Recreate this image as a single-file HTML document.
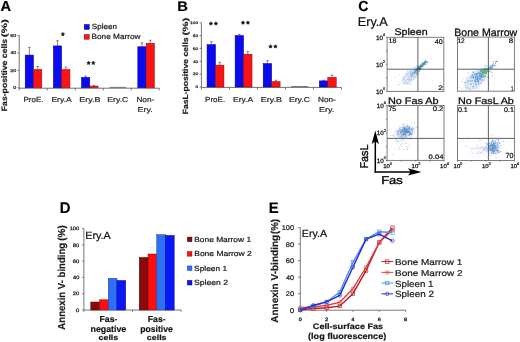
<!DOCTYPE html><html><head><meta charset="utf-8"><style>html,body{margin:0;padding:0;background:#fff;overflow:hidden}svg{display:block;will-change:transform}</style></head><body>
<svg width="520" height="342" viewBox="0 0 520 342" text-rendering="geometricPrecision" font-family='"Liberation Sans", sans-serif'>
<rect width="520" height="342" fill="#fff"/>
<line x1="19.20" y1="35.42" x2="19.20" y2="88.20" stroke="#6a6a6a" stroke-width="0.95"/>
<line x1="19.20" y1="88.20" x2="159.20" y2="88.20" stroke="#6a6a6a" stroke-width="0.95"/>
<line x1="17.40" y1="87.80" x2="19.20" y2="87.80" stroke="#6a6a6a" stroke-width="0.9"/>
<text x="13.24" y="89.26" font-size="4.23" fill="#444" stroke="#444" stroke-width="0.3" textLength="2.95" lengthAdjust="spacingAndGlyphs">0</text>
<line x1="17.40" y1="70.34" x2="19.20" y2="70.34" stroke="#6a6a6a" stroke-width="0.9"/>
<text x="10.34" y="71.80" font-size="4.23" fill="#444" stroke="#444" stroke-width="0.3" textLength="5.86" lengthAdjust="spacingAndGlyphs">20</text>
<line x1="17.40" y1="52.88" x2="19.20" y2="52.88" stroke="#6a6a6a" stroke-width="0.9"/>
<text x="10.50" y="54.34" font-size="4.23" fill="#444" stroke="#444" stroke-width="0.3" textLength="5.69" lengthAdjust="spacingAndGlyphs">40</text>
<line x1="17.40" y1="35.42" x2="19.20" y2="35.42" stroke="#6a6a6a" stroke-width="0.9"/>
<text x="10.34" y="36.88" font-size="4.23" fill="#444" stroke="#444" stroke-width="0.3" textLength="5.86" lengthAdjust="spacingAndGlyphs">60</text>
<line x1="19.20" y1="88.20" x2="19.20" y2="90.40" stroke="#6a6a6a" stroke-width="0.95"/>
<line x1="47.20" y1="88.20" x2="47.20" y2="90.40" stroke="#6a6a6a" stroke-width="0.95"/>
<line x1="75.20" y1="88.20" x2="75.20" y2="90.40" stroke="#6a6a6a" stroke-width="0.95"/>
<line x1="103.20" y1="88.20" x2="103.20" y2="90.40" stroke="#6a6a6a" stroke-width="0.95"/>
<line x1="131.20" y1="88.20" x2="131.20" y2="90.40" stroke="#6a6a6a" stroke-width="0.95"/>
<line x1="159.20" y1="88.20" x2="159.20" y2="90.40" stroke="#6a6a6a" stroke-width="0.95"/>
<line x1="29.35" y1="55.06" x2="29.35" y2="47.38" stroke="#333" stroke-width="0.6"/>
<line x1="28.15" y1="47.38" x2="30.55" y2="47.38" stroke="#333" stroke-width="0.6"/>
<rect x="25.20" y="55.06" width="8.30" height="32.74" fill="#0a0af0" stroke="#00008c" stroke-width="0.5"/>
<line x1="37.65" y1="69.47" x2="37.65" y2="66.50" stroke="#333" stroke-width="0.6"/>
<line x1="36.45" y1="66.50" x2="38.85" y2="66.50" stroke="#333" stroke-width="0.6"/>
<rect x="33.50" y="69.47" width="8.30" height="18.33" fill="#f81414" stroke="#a00000" stroke-width="0.5"/>
<line x1="57.50" y1="45.90" x2="57.50" y2="40.66" stroke="#333" stroke-width="0.6"/>
<line x1="56.30" y1="40.66" x2="58.70" y2="40.66" stroke="#333" stroke-width="0.6"/>
<rect x="53.35" y="45.90" width="8.30" height="41.90" fill="#0a0af0" stroke="#00008c" stroke-width="0.5"/>
<line x1="65.80" y1="69.47" x2="65.80" y2="67.02" stroke="#333" stroke-width="0.6"/>
<line x1="64.60" y1="67.02" x2="67.00" y2="67.02" stroke="#333" stroke-width="0.6"/>
<rect x="61.65" y="69.47" width="8.30" height="18.33" fill="#f81414" stroke="#a00000" stroke-width="0.5"/>
<line x1="85.65" y1="77.32" x2="85.65" y2="76.01" stroke="#333" stroke-width="0.6"/>
<line x1="84.45" y1="76.01" x2="86.85" y2="76.01" stroke="#333" stroke-width="0.6"/>
<rect x="81.50" y="77.32" width="8.30" height="10.48" fill="#0a0af0" stroke="#00008c" stroke-width="0.5"/>
<line x1="93.95" y1="86.05" x2="93.95" y2="85.62" stroke="#333" stroke-width="0.6"/>
<line x1="92.75" y1="85.62" x2="95.15" y2="85.62" stroke="#333" stroke-width="0.6"/>
<rect x="89.80" y="86.05" width="8.30" height="1.75" fill="#f81414" stroke="#a00000" stroke-width="0.5"/>
<rect x="109.65" y="86.90" width="8.30" height="0.90" fill="#666"/>
<rect x="117.95" y="86.90" width="8.30" height="0.90" fill="#666"/>
<line x1="141.95" y1="46.77" x2="141.95" y2="42.84" stroke="#333" stroke-width="0.6"/>
<line x1="140.75" y1="42.84" x2="143.15" y2="42.84" stroke="#333" stroke-width="0.6"/>
<rect x="137.80" y="46.77" width="8.30" height="41.03" fill="#0a0af0" stroke="#00008c" stroke-width="0.5"/>
<line x1="150.25" y1="43.28" x2="150.25" y2="40.22" stroke="#333" stroke-width="0.6"/>
<line x1="149.05" y1="40.22" x2="151.45" y2="40.22" stroke="#333" stroke-width="0.6"/>
<rect x="146.10" y="43.28" width="8.30" height="44.52" fill="#f81414" stroke="#a00000" stroke-width="0.5"/>
<text x="0.53" y="11.00" font-size="14.49" fill="#000" font-weight="bold" stroke="#000" stroke-width="0.18" textLength="10.56" lengthAdjust="spacingAndGlyphs">A</text>
<text transform="translate(7.24,111.26) rotate(-90)" x="0" y="0" font-size="7.91" fill="#1a1a1a" font-weight="bold" stroke="#1a1a1a" stroke-width="0.18" textLength="72.43" lengthAdjust="spacingAndGlyphs">Fas-positive cells</text>
<text transform="translate(7.24,37.18) rotate(-90)" x="0" y="0" font-size="7.91" fill="#1a1a1a" font-weight="bold" stroke="#1a1a1a" stroke-width="0.18" textLength="17.96" lengthAdjust="spacingAndGlyphs">(%)</text>
<rect x="84.20" y="24.40" width="5.20" height="5.10" fill="#0a0af0" stroke="#00008c" stroke-width="0.4"/>
<rect x="84.20" y="34.40" width="5.20" height="5.00" fill="#f81414" stroke="#a00000" stroke-width="0.4"/>
<text x="91.84" y="29.43" font-size="7.49" fill="#1a1a1a" stroke="#1a1a1a" stroke-width="0.22" textLength="25.08" lengthAdjust="spacingAndGlyphs">Spleen</text>
<text x="91.54" y="39.32" font-size="7.57" fill="#1a1a1a" stroke="#1a1a1a" stroke-width="0.22" textLength="49.04" lengthAdjust="spacingAndGlyphs">Bone Marrow</text>
<text x="23.46" y="101.83" font-size="7.29" fill="#2a2a2a" stroke="#2a2a2a" stroke-width="0.22" textLength="20.07" lengthAdjust="spacingAndGlyphs">ProE.</text>
<text x="51.42" y="101.78" font-size="7.22" fill="#2a2a2a" stroke="#2a2a2a" stroke-width="0.22" textLength="20.29" lengthAdjust="spacingAndGlyphs">Ery.A</text>
<text x="79.29" y="101.81" font-size="7.11" fill="#2a2a2a" stroke="#2a2a2a" stroke-width="0.22" textLength="21.06" lengthAdjust="spacingAndGlyphs">Ery.B</text>
<text x="107.31" y="101.82" font-size="7.03" fill="#2a2a2a" stroke="#2a2a2a" stroke-width="0.22" textLength="21.00" lengthAdjust="spacingAndGlyphs">Ery.C</text>
<text x="136.44" y="101.93" font-size="7.29" fill="#2a2a2a" stroke="#2a2a2a" stroke-width="0.22" textLength="17.81" lengthAdjust="spacingAndGlyphs">Non-</text>
<text x="137.48" y="111.51" font-size="7.11" fill="#2a2a2a" stroke="#2a2a2a" stroke-width="0.22" textLength="15.26" lengthAdjust="spacingAndGlyphs">Ery.</text>
<polygon points="62.90,32.35 63.50,33.38 64.66,33.63 63.87,34.51 63.99,35.70 62.90,35.22 61.81,35.70 61.93,34.51 61.14,33.63 62.30,33.38" fill="#111" stroke="#111" stroke-width="0.5" stroke-linejoin="round"/>
<polygon points="88.60,61.15 89.20,62.18 90.36,62.43 89.57,63.31 89.69,64.50 88.60,64.02 87.51,64.50 87.63,63.31 86.84,62.43 88.00,62.18" fill="#111" stroke="#111" stroke-width="0.5" stroke-linejoin="round"/>
<polygon points="93.30,61.15 93.90,62.18 95.06,62.43 94.27,63.31 94.39,64.50 93.30,64.02 92.21,64.50 92.33,63.31 91.54,62.43 92.70,62.18" fill="#111" stroke="#111" stroke-width="0.5" stroke-linejoin="round"/>
<line x1="201.40" y1="22.70" x2="201.40" y2="87.40" stroke="#6a6a6a" stroke-width="0.95"/>
<line x1="201.40" y1="87.40" x2="341.40" y2="87.40" stroke="#6a6a6a" stroke-width="0.95"/>
<line x1="199.60" y1="87.00" x2="201.40" y2="87.00" stroke="#6a6a6a" stroke-width="0.9"/>
<text x="195.41" y="88.26" font-size="3.66" fill="#444" stroke="#444" stroke-width="0.3" textLength="2.66" lengthAdjust="spacingAndGlyphs">0</text>
<line x1="199.60" y1="74.14" x2="201.40" y2="74.14" stroke="#6a6a6a" stroke-width="0.9"/>
<text x="192.76" y="75.40" font-size="3.66" fill="#444" stroke="#444" stroke-width="0.3" textLength="5.32" lengthAdjust="spacingAndGlyphs">20</text>
<line x1="199.60" y1="61.28" x2="201.40" y2="61.28" stroke="#6a6a6a" stroke-width="0.9"/>
<text x="192.91" y="62.54" font-size="3.66" fill="#444" stroke="#444" stroke-width="0.3" textLength="5.17" lengthAdjust="spacingAndGlyphs">40</text>
<line x1="199.60" y1="48.42" x2="201.40" y2="48.42" stroke="#6a6a6a" stroke-width="0.9"/>
<text x="192.76" y="49.68" font-size="3.66" fill="#444" stroke="#444" stroke-width="0.3" textLength="5.32" lengthAdjust="spacingAndGlyphs">60</text>
<line x1="199.60" y1="35.56" x2="201.40" y2="35.56" stroke="#6a6a6a" stroke-width="0.9"/>
<text x="192.79" y="36.82" font-size="3.66" fill="#444" stroke="#444" stroke-width="0.3" textLength="5.29" lengthAdjust="spacingAndGlyphs">80</text>
<line x1="199.60" y1="22.70" x2="201.40" y2="22.70" stroke="#6a6a6a" stroke-width="0.9"/>
<text x="190.04" y="23.96" font-size="3.66" fill="#444" stroke="#444" stroke-width="0.3" textLength="8.05" lengthAdjust="spacingAndGlyphs">100</text>
<line x1="201.40" y1="87.40" x2="201.40" y2="89.60" stroke="#6a6a6a" stroke-width="0.95"/>
<line x1="229.40" y1="87.40" x2="229.40" y2="89.60" stroke="#6a6a6a" stroke-width="0.95"/>
<line x1="257.40" y1="87.40" x2="257.40" y2="89.60" stroke="#6a6a6a" stroke-width="0.95"/>
<line x1="285.40" y1="87.40" x2="285.40" y2="89.60" stroke="#6a6a6a" stroke-width="0.95"/>
<line x1="313.40" y1="87.40" x2="313.40" y2="89.60" stroke="#6a6a6a" stroke-width="0.95"/>
<line x1="341.40" y1="87.40" x2="341.40" y2="89.60" stroke="#6a6a6a" stroke-width="0.95"/>
<line x1="211.28" y1="44.56" x2="211.28" y2="41.67" stroke="#333" stroke-width="0.6"/>
<line x1="210.08" y1="41.67" x2="212.47" y2="41.67" stroke="#333" stroke-width="0.6"/>
<rect x="207.05" y="44.56" width="8.45" height="42.44" fill="#0a0af0" stroke="#00008c" stroke-width="0.5"/>
<line x1="219.72" y1="65.14" x2="219.72" y2="62.24" stroke="#333" stroke-width="0.6"/>
<line x1="218.53" y1="62.24" x2="220.92" y2="62.24" stroke="#333" stroke-width="0.6"/>
<rect x="215.50" y="65.14" width="8.45" height="21.86" fill="#f81414" stroke="#a00000" stroke-width="0.5"/>
<line x1="239.34" y1="35.56" x2="239.34" y2="34.47" stroke="#333" stroke-width="0.6"/>
<line x1="238.15" y1="34.47" x2="240.54" y2="34.47" stroke="#333" stroke-width="0.6"/>
<rect x="235.12" y="35.56" width="8.45" height="51.44" fill="#0a0af0" stroke="#00008c" stroke-width="0.5"/>
<line x1="247.79" y1="54.21" x2="247.79" y2="51.63" stroke="#333" stroke-width="0.6"/>
<line x1="246.59" y1="51.63" x2="248.99" y2="51.63" stroke="#333" stroke-width="0.6"/>
<rect x="243.57" y="54.21" width="8.45" height="32.79" fill="#f81414" stroke="#a00000" stroke-width="0.5"/>
<line x1="267.42" y1="63.53" x2="267.42" y2="60.64" stroke="#333" stroke-width="0.6"/>
<line x1="266.22" y1="60.64" x2="268.62" y2="60.64" stroke="#333" stroke-width="0.6"/>
<rect x="263.19" y="63.53" width="8.45" height="23.47" fill="#0a0af0" stroke="#00008c" stroke-width="0.5"/>
<line x1="275.87" y1="81.53" x2="275.87" y2="80.25" stroke="#333" stroke-width="0.6"/>
<line x1="274.67" y1="80.25" x2="277.06" y2="80.25" stroke="#333" stroke-width="0.6"/>
<rect x="271.64" y="81.53" width="8.45" height="5.47" fill="#f81414" stroke="#a00000" stroke-width="0.5"/>
<rect x="291.26" y="86.10" width="8.45" height="0.90" fill="#666"/>
<rect x="299.71" y="86.10" width="8.45" height="0.90" fill="#666"/>
<line x1="323.56" y1="80.89" x2="323.56" y2="80.25" stroke="#333" stroke-width="0.6"/>
<line x1="322.36" y1="80.25" x2="324.75" y2="80.25" stroke="#333" stroke-width="0.6"/>
<rect x="319.33" y="80.89" width="8.45" height="6.11" fill="#0a0af0" stroke="#00008c" stroke-width="0.5"/>
<line x1="332.00" y1="77.36" x2="332.00" y2="75.23" stroke="#333" stroke-width="0.6"/>
<line x1="330.81" y1="75.23" x2="333.20" y2="75.23" stroke="#333" stroke-width="0.6"/>
<rect x="327.78" y="77.36" width="8.45" height="9.64" fill="#f81414" stroke="#a00000" stroke-width="0.5"/>
<text x="177.24" y="10.70" font-size="13.91" fill="#000" font-weight="bold" stroke="#000" stroke-width="0.18" textLength="10.66" lengthAdjust="spacingAndGlyphs">B</text>
<text transform="translate(187.51,114.36) rotate(-90)" x="0" y="0" font-size="7.59" fill="#1a1a1a" font-weight="bold" stroke="#1a1a1a" stroke-width="0.18" textLength="76.93" lengthAdjust="spacingAndGlyphs">FasL-positive cells</text>
<text transform="translate(187.51,35.58) rotate(-90)" x="0" y="0" font-size="7.59" fill="#1a1a1a" font-weight="bold" stroke="#1a1a1a" stroke-width="0.18" textLength="17.96" lengthAdjust="spacingAndGlyphs">(%)</text>
<text x="205.06" y="101.83" font-size="7.29" fill="#2a2a2a" stroke="#2a2a2a" stroke-width="0.22" textLength="20.07" lengthAdjust="spacingAndGlyphs">ProE.</text>
<text x="233.02" y="101.78" font-size="7.22" fill="#2a2a2a" stroke="#2a2a2a" stroke-width="0.22" textLength="20.29" lengthAdjust="spacingAndGlyphs">Ery.A</text>
<text x="260.89" y="101.81" font-size="7.11" fill="#2a2a2a" stroke="#2a2a2a" stroke-width="0.22" textLength="21.06" lengthAdjust="spacingAndGlyphs">Ery.B</text>
<text x="288.91" y="101.82" font-size="7.03" fill="#2a2a2a" stroke="#2a2a2a" stroke-width="0.22" textLength="21.00" lengthAdjust="spacingAndGlyphs">Ery.C</text>
<text x="318.04" y="101.93" font-size="7.29" fill="#2a2a2a" stroke="#2a2a2a" stroke-width="0.22" textLength="17.81" lengthAdjust="spacingAndGlyphs">Non-</text>
<text x="319.08" y="111.51" font-size="7.11" fill="#2a2a2a" stroke="#2a2a2a" stroke-width="0.22" textLength="15.26" lengthAdjust="spacingAndGlyphs">Ery.</text>
<polygon points="210.90,21.75 211.50,22.78 212.66,23.03 211.87,23.91 211.99,25.10 210.90,24.62 209.81,25.10 209.93,23.91 209.14,23.03 210.30,22.78" fill="#111" stroke="#111" stroke-width="0.5" stroke-linejoin="round"/>
<polygon points="215.90,21.75 216.50,22.78 217.66,23.03 216.87,23.91 216.99,25.10 215.90,24.62 214.81,25.10 214.93,23.91 214.14,23.03 215.30,22.78" fill="#111" stroke="#111" stroke-width="0.5" stroke-linejoin="round"/>
<polygon points="243.00,20.85 243.60,21.88 244.76,22.13 243.97,23.01 244.09,24.20 243.00,23.72 241.91,24.20 242.03,23.01 241.24,22.13 242.40,21.88" fill="#111" stroke="#111" stroke-width="0.5" stroke-linejoin="round"/>
<polygon points="247.90,20.85 248.50,21.88 249.66,22.13 248.87,23.01 248.99,24.20 247.90,23.72 246.81,24.20 246.93,23.01 246.14,22.13 247.30,21.88" fill="#111" stroke="#111" stroke-width="0.5" stroke-linejoin="round"/>
<polygon points="270.50,44.65 271.10,45.68 272.26,45.93 271.47,46.81 271.59,48.00 270.50,47.52 269.41,48.00 269.53,46.81 268.74,45.93 269.90,45.68" fill="#111" stroke="#111" stroke-width="0.5" stroke-linejoin="round"/>
<polygon points="275.40,44.65 276.00,45.68 277.16,45.93 276.37,46.81 276.49,48.00 275.40,47.52 274.31,48.00 274.43,46.81 273.64,45.93 274.80,45.68" fill="#111" stroke="#111" stroke-width="0.5" stroke-linejoin="round"/>
<text x="358.24" y="10.85" font-size="14.51" fill="#000" font-weight="bold" stroke="#000" stroke-width="0.18" textLength="10.14" lengthAdjust="spacingAndGlyphs">C</text>
<text x="357.79" y="25.92" font-size="12.78" fill="#111" stroke="#111" stroke-width="0.22" textLength="30.02" lengthAdjust="spacingAndGlyphs">Ery.A</text>
<defs><filter id="bl" x="-10%" y="-10%" width="120%" height="120%"><feGaussianBlur stdDeviation="0.55"/></filter><clipPath id="cb0"><rect x="387.1" y="37.3" width="56.70" height="54.10"/></clipPath><clipPath id="cb1"><rect x="457.5" y="37.1" width="56.90" height="54.10"/></clipPath><clipPath id="cb2"><rect x="387.1" y="105.5" width="56.90" height="54.90"/></clipPath><clipPath id="cb3"><rect x="457.5" y="105.6" width="56.90" height="54.90"/></clipPath></defs>
<text x="394.52" y="35.28" font-size="9.63" fill="#111" stroke="#111" stroke-width="0.3" textLength="33.06" lengthAdjust="spacingAndGlyphs">Spleen</text>
<g clip-path="url(#cb0)"><g filter="url(#bl)">
<ellipse cx="410" cy="76.5" rx="10" ry="5.5" transform="rotate(-42 410 76.5)" fill="#dbe5f4" opacity="0.9"/>
<circle cx="409.2" cy="79.8" r="0.5" fill="#98b8e0" opacity="0.8"/>
<circle cx="417.6" cy="72.5" r="0.5" fill="#a8c2e6" opacity="0.8"/>
<circle cx="408.7" cy="79.0" r="0.5" fill="#98b8e0" opacity="0.8"/>
<circle cx="410.4" cy="78.3" r="0.5" fill="#b8cdea" opacity="0.8"/>
<circle cx="411.1" cy="76.5" r="0.5" fill="#b8cdea" opacity="0.8"/>
<circle cx="415.1" cy="74.3" r="0.5" fill="#a8c2e6" opacity="0.8"/>
<circle cx="403.0" cy="78.2" r="0.5" fill="#a8c2e6" opacity="0.8"/>
<circle cx="404.2" cy="79.5" r="0.5" fill="#a8c2e6" opacity="0.8"/>
<circle cx="418.1" cy="72.1" r="0.5" fill="#b8cdea" opacity="0.8"/>
<circle cx="406.0" cy="83.1" r="0.5" fill="#98b8e0" opacity="0.8"/>
<circle cx="410.4" cy="84.5" r="0.5" fill="#a8c2e6" opacity="0.8"/>
<circle cx="415.1" cy="75.8" r="0.5" fill="#a8c2e6" opacity="0.8"/>
<circle cx="407.6" cy="83.1" r="0.5" fill="#a8c2e6" opacity="0.8"/>
<circle cx="402.5" cy="80.7" r="0.5" fill="#b8cdea" opacity="0.8"/>
<circle cx="404.9" cy="76.6" r="0.5" fill="#b8cdea" opacity="0.8"/>
<circle cx="401.1" cy="86.9" r="0.5" fill="#b8cdea" opacity="0.8"/>
<circle cx="410.8" cy="84.0" r="0.5" fill="#98b8e0" opacity="0.8"/>
<circle cx="408.3" cy="76.1" r="0.5" fill="#b8cdea" opacity="0.8"/>
<circle cx="400.0" cy="84.0" r="0.5" fill="#98b8e0" opacity="0.8"/>
<circle cx="404.7" cy="83.4" r="0.5" fill="#a8c2e6" opacity="0.8"/>
<circle cx="413.8" cy="76.6" r="0.5" fill="#b8cdea" opacity="0.8"/>
<circle cx="414.0" cy="77.6" r="0.5" fill="#a8c2e6" opacity="0.8"/>
<circle cx="410.4" cy="75.8" r="0.5" fill="#98b8e0" opacity="0.8"/>
<circle cx="399.3" cy="81.8" r="0.5" fill="#b8cdea" opacity="0.8"/>
<circle cx="408.8" cy="81.4" r="0.5" fill="#b8cdea" opacity="0.8"/>
<circle cx="403.8" cy="79.6" r="0.5" fill="#a8c2e6" opacity="0.8"/>
<circle cx="412.4" cy="72.6" r="0.5" fill="#98b8e0" opacity="0.8"/>
<circle cx="416.6" cy="73.8" r="0.5" fill="#b8cdea" opacity="0.8"/>
<circle cx="395.2" cy="77.7" r="0.5" fill="#b8cdea" opacity="0.8"/>
<circle cx="410.4" cy="80.9" r="0.5" fill="#98b8e0" opacity="0.8"/>
<circle cx="408.1" cy="87.7" r="0.5" fill="#b8cdea" opacity="0.8"/>
<circle cx="411.1" cy="77.8" r="0.5" fill="#a8c2e6" opacity="0.8"/>
<circle cx="411.6" cy="79.1" r="0.5" fill="#98b8e0" opacity="0.8"/>
<circle cx="411.5" cy="80.1" r="0.5" fill="#b8cdea" opacity="0.8"/>
<circle cx="414.2" cy="75.4" r="0.5" fill="#98b8e0" opacity="0.8"/>
<circle cx="409.9" cy="79.3" r="0.5" fill="#b8cdea" opacity="0.8"/>
<circle cx="409.7" cy="73.9" r="0.5" fill="#b8cdea" opacity="0.8"/>
<circle cx="414.9" cy="71.6" r="0.5" fill="#b8cdea" opacity="0.8"/>
<circle cx="410.9" cy="75.1" r="0.5" fill="#a8c2e6" opacity="0.8"/>
<circle cx="415.4" cy="77.6" r="0.5" fill="#a8c2e6" opacity="0.8"/>
<circle cx="403.9" cy="82.7" r="0.5" fill="#b8cdea" opacity="0.8"/>
<circle cx="409.9" cy="79.4" r="0.5" fill="#98b8e0" opacity="0.8"/>
<circle cx="407.7" cy="83.3" r="0.5" fill="#a8c2e6" opacity="0.8"/>
<circle cx="404.5" cy="76.1" r="0.5" fill="#98b8e0" opacity="0.8"/>
<circle cx="402.0" cy="77.2" r="0.5" fill="#b8cdea" opacity="0.8"/>
<circle cx="412.3" cy="69.6" r="0.5" fill="#98b8e0" opacity="0.8"/>
<circle cx="407.9" cy="73.9" r="0.5" fill="#b8cdea" opacity="0.8"/>
<circle cx="407.0" cy="82.7" r="0.5" fill="#b8cdea" opacity="0.8"/>
<circle cx="410.8" cy="76.6" r="0.5" fill="#a8c2e6" opacity="0.8"/>
<circle cx="407.6" cy="79.6" r="0.5" fill="#98b8e0" opacity="0.8"/>
<circle cx="409.1" cy="77.4" r="0.5" fill="#a8c2e6" opacity="0.8"/>
<circle cx="397.9" cy="84.7" r="0.5" fill="#98b8e0" opacity="0.8"/>
<circle cx="418.0" cy="71.0" r="0.5" fill="#98b8e0" opacity="0.8"/>
<circle cx="407.2" cy="83.9" r="0.5" fill="#b8cdea" opacity="0.8"/>
<circle cx="403.6" cy="79.0" r="0.5" fill="#a8c2e6" opacity="0.8"/>
<circle cx="410.4" cy="63.9" r="0.5" fill="#b8cdea" opacity="0.8"/>
<circle cx="405.7" cy="80.9" r="0.5" fill="#a8c2e6" opacity="0.8"/>
<circle cx="413.3" cy="76.3" r="0.5" fill="#b8cdea" opacity="0.8"/>
<circle cx="403.3" cy="83.6" r="0.5" fill="#98b8e0" opacity="0.8"/>
<circle cx="419.8" cy="69.5" r="0.5" fill="#98b8e0" opacity="0.8"/>
<circle cx="407.8" cy="84.3" r="0.5" fill="#a8c2e6" opacity="0.8"/>
<circle cx="407.2" cy="75.1" r="0.5" fill="#98b8e0" opacity="0.8"/>
<circle cx="410.3" cy="70.7" r="0.5" fill="#b8cdea" opacity="0.8"/>
<circle cx="399.5" cy="84.8" r="0.5" fill="#b8cdea" opacity="0.8"/>
<circle cx="406.8" cy="73.6" r="0.5" fill="#98b8e0" opacity="0.8"/>
<circle cx="409.1" cy="80.4" r="0.5" fill="#a8c2e6" opacity="0.8"/>
<circle cx="407.5" cy="70.5" r="0.5" fill="#98b8e0" opacity="0.8"/>
<circle cx="408.4" cy="75.0" r="0.5" fill="#b8cdea" opacity="0.8"/>
<circle cx="408.8" cy="78.6" r="0.5" fill="#a8c2e6" opacity="0.8"/>
<circle cx="407.5" cy="73.5" r="0.5" fill="#a8c2e6" opacity="0.8"/>
<circle cx="399.7" cy="74.5" r="0.5" fill="#b8cdea" opacity="0.8"/>
<circle cx="407.8" cy="71.4" r="0.5" fill="#b8cdea" opacity="0.8"/>
<circle cx="412.1" cy="73.4" r="0.5" fill="#a8c2e6" opacity="0.8"/>
<circle cx="414.3" cy="76.0" r="0.5" fill="#b8cdea" opacity="0.8"/>
<circle cx="413.8" cy="79.6" r="0.5" fill="#98b8e0" opacity="0.8"/>
<circle cx="409.2" cy="72.7" r="0.5" fill="#98b8e0" opacity="0.8"/>
<circle cx="408.6" cy="83.6" r="0.5" fill="#98b8e0" opacity="0.8"/>
<circle cx="413.6" cy="76.7" r="0.5" fill="#98b8e0" opacity="0.8"/>
<circle cx="406.3" cy="74.4" r="0.5" fill="#a8c2e6" opacity="0.8"/>
<circle cx="405.0" cy="83.8" r="0.5" fill="#a8c2e6" opacity="0.8"/>
<circle cx="414.2" cy="66.8" r="0.55" fill="#5a92cc" opacity="1.0"/>
<circle cx="411.8" cy="75.2" r="0.55" fill="#6f9fd4" opacity="1.0"/>
<circle cx="414.1" cy="71.0" r="0.55" fill="#6f9fd4" opacity="1.0"/>
<circle cx="418.2" cy="69.1" r="0.55" fill="#5a92cc" opacity="1.0"/>
<circle cx="414.9" cy="70.5" r="0.55" fill="#78a4d6" opacity="1.0"/>
<circle cx="418.1" cy="68.4" r="0.55" fill="#5a92cc" opacity="1.0"/>
<circle cx="417.7" cy="71.3" r="0.55" fill="#6f9fd4" opacity="1.0"/>
<circle cx="421.2" cy="66.5" r="0.55" fill="#78a4d6" opacity="1.0"/>
<circle cx="419.0" cy="70.0" r="0.55" fill="#6f9fd4" opacity="1.0"/>
<circle cx="411.7" cy="76.2" r="0.55" fill="#6f9fd4" opacity="1.0"/>
<circle cx="416.7" cy="70.3" r="0.55" fill="#78a4d6" opacity="1.0"/>
<circle cx="416.6" cy="72.9" r="0.55" fill="#5a92cc" opacity="1.0"/>
<circle cx="410.4" cy="74.5" r="0.55" fill="#6f9fd4" opacity="1.0"/>
<circle cx="416.2" cy="69.3" r="0.55" fill="#5a92cc" opacity="1.0"/>
<circle cx="411.2" cy="71.6" r="0.55" fill="#78a4d6" opacity="1.0"/>
<circle cx="411.8" cy="76.7" r="0.55" fill="#78a4d6" opacity="1.0"/>
<circle cx="416.3" cy="71.2" r="0.55" fill="#78a4d6" opacity="1.0"/>
<circle cx="417.5" cy="69.5" r="0.55" fill="#6f9fd4" opacity="1.0"/>
<circle cx="410.8" cy="72.9" r="0.55" fill="#6f9fd4" opacity="1.0"/>
<circle cx="417.3" cy="71.6" r="0.55" fill="#78a4d6" opacity="1.0"/>
<circle cx="415.8" cy="71.3" r="0.55" fill="#78a4d6" opacity="1.0"/>
<circle cx="412.0" cy="73.9" r="0.55" fill="#6f9fd4" opacity="1.0"/>
<circle cx="415.3" cy="70.7" r="0.55" fill="#6f9fd4" opacity="1.0"/>
<circle cx="416.2" cy="74.1" r="0.55" fill="#78a4d6" opacity="1.0"/>
<circle cx="414.6" cy="72.0" r="0.55" fill="#6f9fd4" opacity="1.0"/>
<circle cx="412.6" cy="74.7" r="0.55" fill="#78a4d6" opacity="1.0"/>
<circle cx="413.4" cy="72.1" r="0.55" fill="#5a92cc" opacity="1.0"/>
<circle cx="412.8" cy="74.3" r="0.55" fill="#5a92cc" opacity="1.0"/>
<circle cx="413.3" cy="73.0" r="0.55" fill="#78a4d6" opacity="1.0"/>
<circle cx="417.0" cy="66.1" r="0.55" fill="#5a92cc" opacity="1.0"/>
<circle cx="418.1" cy="66.6" r="0.55" fill="#6f9fd4" opacity="1.0"/>
<circle cx="415.2" cy="70.4" r="0.55" fill="#6f9fd4" opacity="1.0"/>
<circle cx="414.1" cy="73.5" r="0.55" fill="#78a4d6" opacity="1.0"/>
<circle cx="415.5" cy="71.9" r="0.55" fill="#78a4d6" opacity="1.0"/>
<circle cx="415.1" cy="72.4" r="0.55" fill="#6f9fd4" opacity="1.0"/>
<circle cx="417.4" cy="68.2" r="0.55" fill="#5a92cc" opacity="1.0"/>
<circle cx="419.6" cy="70.9" r="0.55" fill="#5a92cc" opacity="1.0"/>
<circle cx="418.6" cy="73.5" r="0.55" fill="#5a92cc" opacity="1.0"/>
<circle cx="415.6" cy="70.1" r="0.55" fill="#78a4d6" opacity="1.0"/>
<circle cx="415.1" cy="70.3" r="0.55" fill="#5a92cc" opacity="1.0"/>
<circle cx="417.2" cy="69.4" r="0.55" fill="#5a92cc" opacity="1.0"/>
<circle cx="416.5" cy="71.9" r="0.55" fill="#78a4d6" opacity="1.0"/>
<circle cx="414.4" cy="73.5" r="0.55" fill="#5a92cc" opacity="1.0"/>
<circle cx="414.7" cy="71.9" r="0.55" fill="#5a92cc" opacity="1.0"/>
<circle cx="413.0" cy="73.1" r="0.55" fill="#6f9fd4" opacity="1.0"/>
<circle cx="420.4" cy="69.8" r="0.55" fill="#6f9fd4" opacity="1.0"/>
<circle cx="415.9" cy="70.5" r="0.55" fill="#5a92cc" opacity="1.0"/>
<circle cx="416.6" cy="74.7" r="0.55" fill="#6f9fd4" opacity="1.0"/>
<circle cx="415.4" cy="72.3" r="0.55" fill="#5a92cc" opacity="1.0"/>
<circle cx="415.7" cy="68.3" r="0.55" fill="#5a92cc" opacity="1.0"/>
<circle cx="420.5" cy="68.2" r="0.5" fill="#8ab8d8" opacity="0.8"/>
<circle cx="421.8" cy="65.1" r="0.5" fill="#a0c4e0" opacity="0.8"/>
<circle cx="422.5" cy="64.2" r="0.5" fill="#a0c4e0" opacity="0.8"/>
<circle cx="422.6" cy="65.4" r="0.5" fill="#a0c4e0" opacity="0.8"/>
<circle cx="422.5" cy="64.5" r="0.5" fill="#a0c4e0" opacity="0.8"/>
<circle cx="427.8" cy="61.9" r="0.5" fill="#8ab8d8" opacity="0.8"/>
<circle cx="430.8" cy="58.2" r="0.5" fill="#8ab8d8" opacity="0.8"/>
<circle cx="424.0" cy="63.3" r="0.5" fill="#a0c4e0" opacity="0.8"/>
<circle cx="426.7" cy="62.2" r="0.5" fill="#a0c4e0" opacity="0.8"/>
<circle cx="424.3" cy="63.3" r="0.5" fill="#a0c4e0" opacity="0.8"/>
<circle cx="423.9" cy="65.4" r="0.5" fill="#8ab8d8" opacity="0.8"/>
<circle cx="420.7" cy="66.6" r="0.5" fill="#8ab8d8" opacity="0.8"/>
<circle cx="420.9" cy="66.6" r="0.5" fill="#8ab8d8" opacity="0.8"/>
<circle cx="422.6" cy="59.8" r="0.5" fill="#a0c4e0" opacity="0.8"/>
<circle cx="426.7" cy="61.7" r="0.5" fill="#a0c4e0" opacity="0.8"/>
<circle cx="420.5" cy="66.8" r="0.5" fill="#8ab8d8" opacity="0.8"/>
<circle cx="427.2" cy="63.0" r="0.5" fill="#8ab8d8" opacity="0.8"/>
<circle cx="419.8" cy="65.8" r="0.5" fill="#8ab8d8" opacity="0.8"/>
<circle cx="424.5" cy="63.1" r="0.5" fill="#a0c4e0" opacity="0.8"/>
<circle cx="424.7" cy="63.0" r="0.5" fill="#a0c4e0" opacity="0.8"/>
<circle cx="421.0" cy="67.4" r="0.5" fill="#a0c4e0" opacity="0.8"/>
<circle cx="422.6" cy="64.9" r="0.5" fill="#8ab8d8" opacity="0.8"/>
<circle cx="421.8" cy="66.0" r="0.5" fill="#8ab8d8" opacity="0.8"/>
<circle cx="424.2" cy="61.8" r="0.5" fill="#8ab8d8" opacity="0.8"/>
<circle cx="418.6" cy="67.2" r="0.5" fill="#a0c4e0" opacity="0.8"/>
<circle cx="421.2" cy="66.6" r="0.5" fill="#8ab8d8" opacity="0.8"/>
<circle cx="424.9" cy="63.1" r="0.5" fill="#8ab8d8" opacity="0.8"/>
<circle cx="425.5" cy="62.2" r="0.5" fill="#a0c4e0" opacity="0.8"/>
<circle cx="428.0" cy="61.0" r="0.5" fill="#a0c4e0" opacity="0.8"/>
<circle cx="422.5" cy="65.3" r="0.5" fill="#8ab8d8" opacity="0.8"/>
<circle cx="424.6" cy="64.0" r="0.5" fill="#a0c4e0" opacity="0.8"/>
<circle cx="424.1" cy="66.8" r="0.5" fill="#a0c4e0" opacity="0.8"/>
<circle cx="422.8" cy="65.7" r="0.5" fill="#8ab8d8" opacity="0.8"/>
<circle cx="419.9" cy="66.6" r="0.5" fill="#8ab8d8" opacity="0.8"/>
<circle cx="422.5" cy="66.4" r="0.5" fill="#a0c4e0" opacity="0.8"/>
<circle cx="419.1" cy="65.9" r="0.5" fill="#8ab8d8" opacity="0.8"/>
<circle cx="421.5" cy="63.3" r="0.5" fill="#8ab8d8" opacity="0.8"/>
<circle cx="426.0" cy="64.3" r="0.5" fill="#a0c4e0" opacity="0.8"/>
<circle cx="427.6" cy="61.6" r="0.5" fill="#8ab8d8" opacity="0.8"/>
<circle cx="420.5" cy="63.9" r="0.5" fill="#a0c4e0" opacity="0.8"/>
<circle cx="425.4" cy="61.7" r="0.55" fill="#5a9ad0" opacity="1.0"/>
<circle cx="423.9" cy="62.4" r="0.55" fill="#5a9ad0" opacity="1.0"/>
<circle cx="422.9" cy="63.4" r="0.55" fill="#3f8a9a" opacity="1.0"/>
<circle cx="423.2" cy="64.7" r="0.55" fill="#5aa0b4" opacity="1.0"/>
<circle cx="424.6" cy="63.1" r="0.55" fill="#6aae90" opacity="1.0"/>
<circle cx="419.1" cy="67.7" r="0.55" fill="#5a9ad0" opacity="1.0"/>
<circle cx="420.8" cy="65.7" r="0.55" fill="#4a8fa0" opacity="1.0"/>
<circle cx="421.7" cy="66.0" r="0.55" fill="#5a9ad0" opacity="1.0"/>
<circle cx="423.2" cy="64.3" r="0.55" fill="#5a9ad0" opacity="1.0"/>
<circle cx="426.4" cy="62.4" r="0.55" fill="#5aa0b4" opacity="1.0"/>
<circle cx="423.3" cy="62.7" r="0.55" fill="#3f8a9a" opacity="1.0"/>
<circle cx="422.0" cy="65.0" r="0.55" fill="#6aae90" opacity="1.0"/>
<circle cx="420.2" cy="67.3" r="0.55" fill="#6aae90" opacity="1.0"/>
<circle cx="423.9" cy="63.5" r="0.55" fill="#4a8fa0" opacity="1.0"/>
<circle cx="419.5" cy="66.9" r="0.55" fill="#4a8fa0" opacity="1.0"/>
<circle cx="420.5" cy="66.5" r="0.55" fill="#5aa0b4" opacity="1.0"/>
<circle cx="421.4" cy="65.8" r="0.55" fill="#6aae90" opacity="1.0"/>
<circle cx="424.4" cy="63.8" r="0.55" fill="#4a8fa0" opacity="1.0"/>
<circle cx="420.5" cy="65.6" r="0.55" fill="#5aa0b4" opacity="1.0"/>
<circle cx="421.6" cy="65.2" r="0.55" fill="#6aae90" opacity="1.0"/>
<circle cx="421.4" cy="66.3" r="0.55" fill="#5a9ad0" opacity="1.0"/>
<circle cx="425.9" cy="64.8" r="0.55" fill="#6aae90" opacity="1.0"/>
<circle cx="425.2" cy="62.9" r="0.55" fill="#5a9ad0" opacity="1.0"/>
<circle cx="424.9" cy="62.8" r="0.55" fill="#5aa0b4" opacity="1.0"/>
<circle cx="419.2" cy="69.6" r="0.55" fill="#3f8a9a" opacity="1.0"/>
<circle cx="423.5" cy="64.5" r="0.55" fill="#5a9ad0" opacity="1.0"/>
<circle cx="422.8" cy="65.9" r="0.55" fill="#5a9ad0" opacity="1.0"/>
<circle cx="423.2" cy="63.5" r="0.55" fill="#4a8fa0" opacity="1.0"/>
<circle cx="421.7" cy="65.3" r="0.55" fill="#6aae90" opacity="1.0"/>
<circle cx="421.6" cy="66.4" r="0.55" fill="#6aae90" opacity="1.0"/>
<circle cx="421.0" cy="65.6" r="0.55" fill="#3f8a9a" opacity="1.0"/>
<circle cx="420.7" cy="67.3" r="0.55" fill="#4a8fa0" opacity="1.0"/>
<circle cx="422.6" cy="65.1" r="0.55" fill="#5aa0b4" opacity="1.0"/>
<circle cx="422.9" cy="64.4" r="0.55" fill="#3f8a9a" opacity="1.0"/>
<circle cx="420.3" cy="65.1" r="0.55" fill="#5aa0b4" opacity="1.0"/>
<circle cx="422.7" cy="65.4" r="0.55" fill="#6aae90" opacity="1.0"/>
<circle cx="425.7" cy="62.3" r="0.55" fill="#5aa0b4" opacity="1.0"/>
<circle cx="425.7" cy="61.6" r="0.55" fill="#4a8fa0" opacity="1.0"/>
<circle cx="422.5" cy="65.5" r="0.55" fill="#5aa0b4" opacity="1.0"/>
<circle cx="421.4" cy="65.8" r="0.55" fill="#5aa0b4" opacity="1.0"/>
<circle cx="420.8" cy="67.1" r="0.55" fill="#5aa0b4" opacity="1.0"/>
<circle cx="422.5" cy="64.1" r="0.55" fill="#4a8fa0" opacity="1.0"/>
<circle cx="423.1" cy="63.3" r="0.55" fill="#5a9ad0" opacity="1.0"/>
<circle cx="418.6" cy="68.2" r="0.55" fill="#4a8fa0" opacity="1.0"/>
<circle cx="424.5" cy="63.0" r="0.55" fill="#5a9ad0" opacity="1.0"/>
<circle cx="421.8" cy="64.3" r="0.55" fill="#5aa0b4" opacity="1.0"/>
<circle cx="417.4" cy="70.0" r="0.55" fill="#5a9ad0" opacity="1.0"/>
<circle cx="424.8" cy="64.0" r="0.55" fill="#5aa0b4" opacity="1.0"/>
<circle cx="422.5" cy="65.9" r="0.55" fill="#5aa0b4" opacity="1.0"/>
<circle cx="421.2" cy="66.7" r="0.55" fill="#6aae90" opacity="1.0"/>
<circle cx="420.1" cy="67.0" r="0.55" fill="#3f8a9a" opacity="1.0"/>
<circle cx="421.8" cy="65.6" r="0.55" fill="#5a9ad0" opacity="1.0"/>
<circle cx="424.5" cy="62.8" r="0.55" fill="#3f8a9a" opacity="1.0"/>
<circle cx="420.6" cy="67.2" r="0.55" fill="#6aae90" opacity="1.0"/>
<circle cx="420.1" cy="67.9" r="0.55" fill="#3f8a9a" opacity="1.0"/>
<circle cx="424.6" cy="63.8" r="0.55" fill="#4a8fa0" opacity="1.0"/>
<circle cx="422.0" cy="66.5" r="0.55" fill="#5a9ad0" opacity="1.0"/>
<circle cx="422.7" cy="65.2" r="0.55" fill="#6aae90" opacity="1.0"/>
<circle cx="420.1" cy="68.4" r="0.55" fill="#3f8a9a" opacity="1.0"/>
<circle cx="421.3" cy="66.9" r="0.55" fill="#4a8fa0" opacity="1.0"/>
<circle cx="419.4" cy="68.0" r="0.55" fill="#5aa0b4" opacity="1.0"/>
<circle cx="424.9" cy="63.9" r="0.55" fill="#3f8a9a" opacity="1.0"/>
<circle cx="427.3" cy="62.1" r="0.55" fill="#6aae90" opacity="1.0"/>
<circle cx="420.7" cy="67.4" r="0.55" fill="#5aa0b4" opacity="1.0"/>
<circle cx="424.5" cy="61.8" r="0.55" fill="#4a8fa0" opacity="1.0"/>
<circle cx="424.6" cy="64.1" r="0.55" fill="#6aae90" opacity="1.0"/>
<circle cx="425.1" cy="62.6" r="0.55" fill="#4a8fa0" opacity="1.0"/>
<circle cx="419.0" cy="69.8" r="0.55" fill="#5a9ad0" opacity="1.0"/>
<circle cx="425.4" cy="60.5" r="0.55" fill="#3f8a9a" opacity="1.0"/>
<circle cx="422.5" cy="64.5" r="0.55" fill="#3f8a9a" opacity="1.0"/>
<circle cx="418.8" cy="68.3" r="0.55" fill="#6aae90" opacity="1.0"/>
<circle cx="426.5" cy="62.5" r="0.55" fill="#4a8fa0" opacity="1.0"/>
<circle cx="422.5" cy="64.5" r="0.55" fill="#4a8fa0" opacity="1.0"/>
<circle cx="420.9" cy="65.9" r="0.55" fill="#3f8a9a" opacity="1.0"/>
<circle cx="420.0" cy="66.5" r="0.55" fill="#6aae90" opacity="1.0"/>
<circle cx="421.9" cy="65.3" r="0.55" fill="#4a8fa0" opacity="1.0"/>
<circle cx="421.9" cy="68.1" r="0.55" fill="#3f8a9a" opacity="1.0"/>
<circle cx="421.4" cy="66.6" r="0.55" fill="#5a9ad0" opacity="1.0"/>
<circle cx="425.5" cy="62.6" r="0.55" fill="#6aae90" opacity="1.0"/>
<circle cx="422.6" cy="66.0" r="0.55" fill="#3f8a9a" opacity="1.0"/>
<circle cx="417.8" cy="68.9" r="0.6" fill="#2f6f7a" opacity="1.0"/>
<circle cx="419.5" cy="69.0" r="0.6" fill="#3a7a88" opacity="1.0"/>
<circle cx="419.1" cy="69.0" r="0.6" fill="#3a7a88" opacity="1.0"/>
<circle cx="419.1" cy="69.1" r="0.6" fill="#3a7a88" opacity="1.0"/>
<circle cx="419.1" cy="68.5" r="0.6" fill="#2f6f7a" opacity="1.0"/>
<circle cx="418.0" cy="67.6" r="0.6" fill="#3a7a88" opacity="1.0"/>
<circle cx="418.2" cy="68.3" r="0.6" fill="#3a7a88" opacity="1.0"/>
<circle cx="418.4" cy="67.9" r="0.6" fill="#2f6f7a" opacity="1.0"/>
<circle cx="417.8" cy="68.8" r="0.6" fill="#2f6f7a" opacity="1.0"/>
<circle cx="418.6" cy="69.4" r="0.6" fill="#3a7a88" opacity="1.0"/>
<circle cx="419.6" cy="69.5" r="0.6" fill="#2f6f7a" opacity="1.0"/>
<circle cx="419.4" cy="68.2" r="0.6" fill="#2f6f7a" opacity="1.0"/>
<circle cx="419.0" cy="68.7" r="0.6" fill="#3a7a88" opacity="1.0"/>
<circle cx="418.7" cy="68.9" r="0.6" fill="#2f6f7a" opacity="1.0"/>
<circle cx="417.1" cy="69.4" r="0.6" fill="#2f6f7a" opacity="1.0"/>
<circle cx="416.8" cy="69.9" r="0.6" fill="#3a7a88" opacity="1.0"/>
<circle cx="418.1" cy="66.0" r="0.6" fill="#2f6f7a" opacity="1.0"/>
<circle cx="418.2" cy="69.3" r="0.6" fill="#3a7a88" opacity="1.0"/>
<circle cx="419.9" cy="69.0" r="0.6" fill="#3a7a88" opacity="1.0"/>
<circle cx="420.0" cy="66.8" r="0.6" fill="#3a7a88" opacity="1.0"/>
<circle cx="418.5" cy="68.9" r="0.6" fill="#3a7a88" opacity="1.0"/>
<circle cx="419.4" cy="69.2" r="0.6" fill="#2f6f7a" opacity="1.0"/>
<circle cx="416.9" cy="68.3" r="0.6" fill="#3a7a88" opacity="1.0"/>
<circle cx="417.3" cy="70.0" r="0.6" fill="#3a7a88" opacity="1.0"/>
<circle cx="419.8" cy="69.5" r="0.6" fill="#2f6f7a" opacity="1.0"/>
</g></g>
<rect x="387.1" y="37.3" width="56.70" height="54.10" fill="none" stroke="#707070" stroke-width="0.9"/>
<line x1="417.90" y1="37.30" x2="417.90" y2="91.40" stroke="#505050" stroke-width="0.9"/>
<line x1="387.10" y1="69.20" x2="443.80" y2="69.20" stroke="#505050" stroke-width="0.9"/>
<text x="388.57" y="43.43" font-size="6.62" fill="#111" stroke="#111" stroke-width="0.22" textLength="7.83" lengthAdjust="spacingAndGlyphs">18</text>
<text x="434.86" y="43.53" font-size="6.90" fill="#111" stroke="#111" stroke-width="0.22" textLength="7.80" lengthAdjust="spacingAndGlyphs">40</text>
<text x="438.37" y="89.60" font-size="6.57" fill="#111" stroke="#111" stroke-width="0.22" textLength="4.77" lengthAdjust="spacingAndGlyphs">2</text>
<text x="454.25" y="35.99" font-size="10.57" fill="#111" stroke="#111" stroke-width="0.3" textLength="63.02" lengthAdjust="spacingAndGlyphs">Bone Marrow</text>
<g clip-path="url(#cb1)"><g filter="url(#bl)">
<ellipse cx="476" cy="79" rx="14" ry="7.5" transform="rotate(-40 476 79)" fill="#dde7f5" opacity="0.9"/>
<circle cx="471.1" cy="94.2" r="0.5" fill="#a9c2e4" opacity="0.85"/>
<circle cx="475.5" cy="89.1" r="0.5" fill="#9dbae2" opacity="0.85"/>
<circle cx="481.5" cy="75.2" r="0.5" fill="#bcd0ea" opacity="0.85"/>
<circle cx="474.2" cy="78.8" r="0.5" fill="#a9c2e4" opacity="0.85"/>
<circle cx="466.0" cy="91.0" r="0.5" fill="#a9c2e4" opacity="0.85"/>
<circle cx="480.0" cy="86.2" r="0.5" fill="#bcd0ea" opacity="0.85"/>
<circle cx="474.7" cy="84.7" r="0.5" fill="#bcd0ea" opacity="0.85"/>
<circle cx="485.8" cy="72.9" r="0.5" fill="#bcd0ea" opacity="0.85"/>
<circle cx="475.5" cy="84.4" r="0.5" fill="#a9c2e4" opacity="0.85"/>
<circle cx="469.3" cy="76.7" r="0.5" fill="#bcd0ea" opacity="0.85"/>
<circle cx="476.6" cy="77.7" r="0.5" fill="#a9c2e4" opacity="0.85"/>
<circle cx="485.5" cy="76.7" r="0.5" fill="#9dbae2" opacity="0.85"/>
<circle cx="479.6" cy="73.8" r="0.5" fill="#9dbae2" opacity="0.85"/>
<circle cx="481.1" cy="68.1" r="0.5" fill="#a9c2e4" opacity="0.85"/>
<circle cx="477.4" cy="75.9" r="0.5" fill="#bcd0ea" opacity="0.85"/>
<circle cx="476.8" cy="87.8" r="0.5" fill="#a9c2e4" opacity="0.85"/>
<circle cx="469.1" cy="81.8" r="0.5" fill="#9dbae2" opacity="0.85"/>
<circle cx="466.5" cy="90.8" r="0.5" fill="#bcd0ea" opacity="0.85"/>
<circle cx="479.4" cy="77.9" r="0.5" fill="#a9c2e4" opacity="0.85"/>
<circle cx="476.2" cy="81.3" r="0.5" fill="#a9c2e4" opacity="0.85"/>
<circle cx="468.2" cy="87.3" r="0.5" fill="#a9c2e4" opacity="0.85"/>
<circle cx="486.2" cy="67.9" r="0.5" fill="#a9c2e4" opacity="0.85"/>
<circle cx="476.1" cy="81.7" r="0.5" fill="#a9c2e4" opacity="0.85"/>
<circle cx="464.3" cy="99.3" r="0.5" fill="#9dbae2" opacity="0.85"/>
<circle cx="478.0" cy="80.3" r="0.5" fill="#9dbae2" opacity="0.85"/>
<circle cx="465.3" cy="82.3" r="0.5" fill="#bcd0ea" opacity="0.85"/>
<circle cx="463.8" cy="87.7" r="0.5" fill="#a9c2e4" opacity="0.85"/>
<circle cx="473.2" cy="76.3" r="0.5" fill="#9dbae2" opacity="0.85"/>
<circle cx="468.5" cy="83.4" r="0.5" fill="#bcd0ea" opacity="0.85"/>
<circle cx="478.1" cy="84.2" r="0.5" fill="#a9c2e4" opacity="0.85"/>
<circle cx="477.0" cy="81.9" r="0.5" fill="#bcd0ea" opacity="0.85"/>
<circle cx="476.9" cy="80.4" r="0.5" fill="#9dbae2" opacity="0.85"/>
<circle cx="481.8" cy="73.3" r="0.5" fill="#a9c2e4" opacity="0.85"/>
<circle cx="472.2" cy="80.2" r="0.5" fill="#9dbae2" opacity="0.85"/>
<circle cx="477.6" cy="77.4" r="0.5" fill="#9dbae2" opacity="0.85"/>
<circle cx="476.6" cy="75.4" r="0.5" fill="#9dbae2" opacity="0.85"/>
<circle cx="476.0" cy="78.1" r="0.5" fill="#9dbae2" opacity="0.85"/>
<circle cx="476.2" cy="80.9" r="0.5" fill="#bcd0ea" opacity="0.85"/>
<circle cx="481.9" cy="72.1" r="0.5" fill="#a9c2e4" opacity="0.85"/>
<circle cx="471.6" cy="92.7" r="0.5" fill="#9dbae2" opacity="0.85"/>
<circle cx="463.5" cy="83.9" r="0.5" fill="#bcd0ea" opacity="0.85"/>
<circle cx="477.1" cy="77.0" r="0.5" fill="#bcd0ea" opacity="0.85"/>
<circle cx="470.7" cy="78.1" r="0.5" fill="#a9c2e4" opacity="0.85"/>
<circle cx="474.1" cy="83.5" r="0.5" fill="#a9c2e4" opacity="0.85"/>
<circle cx="476.6" cy="78.5" r="0.5" fill="#bcd0ea" opacity="0.85"/>
<circle cx="470.9" cy="80.2" r="0.5" fill="#a9c2e4" opacity="0.85"/>
<circle cx="474.5" cy="74.4" r="0.5" fill="#9dbae2" opacity="0.85"/>
<circle cx="479.6" cy="80.9" r="0.5" fill="#a9c2e4" opacity="0.85"/>
<circle cx="482.5" cy="74.6" r="0.5" fill="#9dbae2" opacity="0.85"/>
<circle cx="478.1" cy="78.3" r="0.5" fill="#9dbae2" opacity="0.85"/>
<circle cx="471.6" cy="79.9" r="0.5" fill="#bcd0ea" opacity="0.85"/>
<circle cx="479.0" cy="78.4" r="0.5" fill="#bcd0ea" opacity="0.85"/>
<circle cx="482.4" cy="92.5" r="0.5" fill="#bcd0ea" opacity="0.85"/>
<circle cx="477.4" cy="92.9" r="0.5" fill="#9dbae2" opacity="0.85"/>
<circle cx="467.9" cy="73.0" r="0.5" fill="#9dbae2" opacity="0.85"/>
<circle cx="468.2" cy="92.9" r="0.5" fill="#9dbae2" opacity="0.85"/>
<circle cx="468.8" cy="80.6" r="0.5" fill="#9dbae2" opacity="0.85"/>
<circle cx="475.5" cy="80.2" r="0.5" fill="#a9c2e4" opacity="0.85"/>
<circle cx="468.2" cy="92.0" r="0.5" fill="#9dbae2" opacity="0.85"/>
<circle cx="468.6" cy="83.0" r="0.5" fill="#a9c2e4" opacity="0.85"/>
<circle cx="477.1" cy="79.6" r="0.5" fill="#a9c2e4" opacity="0.85"/>
<circle cx="461.3" cy="81.6" r="0.5" fill="#a9c2e4" opacity="0.85"/>
<circle cx="459.7" cy="87.6" r="0.5" fill="#bcd0ea" opacity="0.85"/>
<circle cx="471.7" cy="83.0" r="0.5" fill="#9dbae2" opacity="0.85"/>
<circle cx="478.6" cy="80.1" r="0.5" fill="#a9c2e4" opacity="0.85"/>
<circle cx="482.7" cy="77.7" r="0.5" fill="#a9c2e4" opacity="0.85"/>
<circle cx="477.4" cy="89.7" r="0.5" fill="#a9c2e4" opacity="0.85"/>
<circle cx="481.1" cy="73.2" r="0.5" fill="#a9c2e4" opacity="0.85"/>
<circle cx="465.6" cy="82.9" r="0.5" fill="#a9c2e4" opacity="0.85"/>
<circle cx="479.1" cy="71.0" r="0.5" fill="#a9c2e4" opacity="0.85"/>
<circle cx="462.7" cy="81.5" r="0.5" fill="#bcd0ea" opacity="0.85"/>
<circle cx="469.2" cy="92.5" r="0.5" fill="#9dbae2" opacity="0.85"/>
<circle cx="478.8" cy="80.7" r="0.5" fill="#9dbae2" opacity="0.85"/>
<circle cx="477.4" cy="76.3" r="0.5" fill="#9dbae2" opacity="0.85"/>
<circle cx="479.9" cy="78.9" r="0.5" fill="#bcd0ea" opacity="0.85"/>
<circle cx="474.6" cy="76.5" r="0.5" fill="#bcd0ea" opacity="0.85"/>
<circle cx="475.7" cy="71.1" r="0.5" fill="#bcd0ea" opacity="0.85"/>
<circle cx="475.1" cy="77.1" r="0.5" fill="#bcd0ea" opacity="0.85"/>
<circle cx="465.8" cy="92.1" r="0.5" fill="#9dbae2" opacity="0.85"/>
<circle cx="469.8" cy="80.3" r="0.5" fill="#a9c2e4" opacity="0.85"/>
<circle cx="469.5" cy="89.5" r="0.5" fill="#9dbae2" opacity="0.85"/>
<circle cx="471.3" cy="83.4" r="0.5" fill="#a9c2e4" opacity="0.85"/>
<circle cx="467.4" cy="81.9" r="0.5" fill="#a9c2e4" opacity="0.85"/>
<circle cx="468.8" cy="88.8" r="0.5" fill="#9dbae2" opacity="0.85"/>
<circle cx="475.4" cy="69.4" r="0.5" fill="#9dbae2" opacity="0.85"/>
<circle cx="478.5" cy="78.9" r="0.5" fill="#9dbae2" opacity="0.85"/>
<circle cx="472.4" cy="91.2" r="0.5" fill="#bcd0ea" opacity="0.85"/>
<circle cx="473.3" cy="81.5" r="0.5" fill="#bcd0ea" opacity="0.85"/>
<circle cx="489.4" cy="77.4" r="0.5" fill="#9dbae2" opacity="0.85"/>
<circle cx="472.4" cy="74.7" r="0.5" fill="#a9c2e4" opacity="0.85"/>
<circle cx="468.2" cy="72.4" r="0.5" fill="#bcd0ea" opacity="0.85"/>
<circle cx="477.5" cy="76.6" r="0.5" fill="#a9c2e4" opacity="0.85"/>
<circle cx="484.4" cy="71.0" r="0.5" fill="#a9c2e4" opacity="0.85"/>
<circle cx="489.4" cy="84.0" r="0.5" fill="#9dbae2" opacity="0.85"/>
<circle cx="478.3" cy="88.6" r="0.5" fill="#a9c2e4" opacity="0.85"/>
<circle cx="466.5" cy="78.2" r="0.5" fill="#a9c2e4" opacity="0.85"/>
<circle cx="481.2" cy="76.7" r="0.5" fill="#9dbae2" opacity="0.85"/>
<circle cx="487.6" cy="80.0" r="0.5" fill="#9dbae2" opacity="0.85"/>
<circle cx="478.3" cy="72.8" r="0.5" fill="#9dbae2" opacity="0.85"/>
<circle cx="461.7" cy="92.1" r="0.5" fill="#a9c2e4" opacity="0.85"/>
<circle cx="465.7" cy="83.7" r="0.5" fill="#a9c2e4" opacity="0.85"/>
<circle cx="475.1" cy="81.5" r="0.5" fill="#a9c2e4" opacity="0.85"/>
<circle cx="470.8" cy="89.2" r="0.5" fill="#9dbae2" opacity="0.85"/>
<circle cx="463.4" cy="78.2" r="0.5" fill="#a9c2e4" opacity="0.85"/>
<circle cx="473.7" cy="76.2" r="0.5" fill="#bcd0ea" opacity="0.85"/>
<circle cx="488.0" cy="71.8" r="0.5" fill="#9dbae2" opacity="0.85"/>
<circle cx="466.3" cy="85.2" r="0.5" fill="#a9c2e4" opacity="0.85"/>
<circle cx="479.0" cy="84.4" r="0.5" fill="#9dbae2" opacity="0.85"/>
<circle cx="471.4" cy="77.0" r="0.5" fill="#9dbae2" opacity="0.85"/>
<circle cx="482.4" cy="72.6" r="0.5" fill="#9dbae2" opacity="0.85"/>
<circle cx="475.0" cy="82.4" r="0.5" fill="#a9c2e4" opacity="0.85"/>
<circle cx="484.1" cy="81.2" r="0.5" fill="#a9c2e4" opacity="0.85"/>
<circle cx="476.7" cy="85.9" r="0.5" fill="#9dbae2" opacity="0.85"/>
<circle cx="457.0" cy="82.3" r="0.5" fill="#bcd0ea" opacity="0.85"/>
<circle cx="483.2" cy="66.3" r="0.5" fill="#bcd0ea" opacity="0.85"/>
<circle cx="476.5" cy="78.6" r="0.5" fill="#a9c2e4" opacity="0.85"/>
<circle cx="477.3" cy="86.7" r="0.5" fill="#9dbae2" opacity="0.85"/>
<circle cx="462.0" cy="91.0" r="0.5" fill="#a9c2e4" opacity="0.85"/>
<circle cx="467.3" cy="87.8" r="0.5" fill="#a9c2e4" opacity="0.85"/>
<circle cx="475.5" cy="79.6" r="0.5" fill="#9dbae2" opacity="0.85"/>
<circle cx="480.3" cy="79.5" r="0.55" fill="#4a8ad0" opacity="1.0"/>
<circle cx="477.5" cy="79.3" r="0.55" fill="#4a8ad0" opacity="1.0"/>
<circle cx="484.3" cy="76.8" r="0.55" fill="#7aaee0" opacity="1.0"/>
<circle cx="480.7" cy="75.4" r="0.55" fill="#4a8ad0" opacity="1.0"/>
<circle cx="476.7" cy="74.4" r="0.55" fill="#5b97d6" opacity="1.0"/>
<circle cx="471.2" cy="77.4" r="0.55" fill="#6aa2dc" opacity="1.0"/>
<circle cx="478.0" cy="79.0" r="0.55" fill="#5b97d6" opacity="1.0"/>
<circle cx="489.0" cy="70.0" r="0.55" fill="#6aa2dc" opacity="1.0"/>
<circle cx="473.7" cy="78.3" r="0.55" fill="#7aaee0" opacity="1.0"/>
<circle cx="484.1" cy="80.0" r="0.55" fill="#5b97d6" opacity="1.0"/>
<circle cx="481.1" cy="74.9" r="0.55" fill="#4a8ad0" opacity="1.0"/>
<circle cx="480.8" cy="76.1" r="0.55" fill="#5b97d6" opacity="1.0"/>
<circle cx="485.9" cy="70.7" r="0.55" fill="#4a8ad0" opacity="1.0"/>
<circle cx="482.8" cy="74.9" r="0.55" fill="#7aaee0" opacity="1.0"/>
<circle cx="480.0" cy="73.3" r="0.55" fill="#6aa2dc" opacity="1.0"/>
<circle cx="486.8" cy="71.5" r="0.55" fill="#7aaee0" opacity="1.0"/>
<circle cx="479.7" cy="75.4" r="0.55" fill="#7aaee0" opacity="1.0"/>
<circle cx="477.8" cy="73.3" r="0.55" fill="#7aaee0" opacity="1.0"/>
<circle cx="492.4" cy="75.8" r="0.55" fill="#6aa2dc" opacity="1.0"/>
<circle cx="480.7" cy="76.0" r="0.55" fill="#6aa2dc" opacity="1.0"/>
<circle cx="485.3" cy="65.5" r="0.55" fill="#6aa2dc" opacity="1.0"/>
<circle cx="477.7" cy="74.6" r="0.55" fill="#7aaee0" opacity="1.0"/>
<circle cx="472.3" cy="74.6" r="0.55" fill="#6aa2dc" opacity="1.0"/>
<circle cx="481.1" cy="82.7" r="0.55" fill="#4a8ad0" opacity="1.0"/>
<circle cx="485.7" cy="72.7" r="0.55" fill="#4a8ad0" opacity="1.0"/>
<circle cx="481.1" cy="77.2" r="0.55" fill="#4a8ad0" opacity="1.0"/>
<circle cx="486.0" cy="68.2" r="0.55" fill="#6aa2dc" opacity="1.0"/>
<circle cx="483.3" cy="76.1" r="0.55" fill="#4a8ad0" opacity="1.0"/>
<circle cx="476.1" cy="83.9" r="0.55" fill="#7aaee0" opacity="1.0"/>
<circle cx="474.9" cy="80.7" r="0.55" fill="#5b97d6" opacity="1.0"/>
<circle cx="481.5" cy="71.1" r="0.55" fill="#4a8ad0" opacity="1.0"/>
<circle cx="475.8" cy="77.8" r="0.55" fill="#4a8ad0" opacity="1.0"/>
<circle cx="476.9" cy="81.3" r="0.55" fill="#4a8ad0" opacity="1.0"/>
<circle cx="481.0" cy="75.3" r="0.55" fill="#5b97d6" opacity="1.0"/>
<circle cx="477.3" cy="76.3" r="0.55" fill="#4a8ad0" opacity="1.0"/>
<circle cx="479.2" cy="75.3" r="0.55" fill="#4a8ad0" opacity="1.0"/>
<circle cx="475.3" cy="74.7" r="0.55" fill="#5b97d6" opacity="1.0"/>
<circle cx="479.2" cy="74.8" r="0.55" fill="#6aa2dc" opacity="1.0"/>
<circle cx="487.9" cy="77.4" r="0.55" fill="#5b97d6" opacity="1.0"/>
<circle cx="483.4" cy="68.2" r="0.55" fill="#7aaee0" opacity="1.0"/>
<circle cx="483.2" cy="74.3" r="0.55" fill="#5b97d6" opacity="1.0"/>
<circle cx="491.7" cy="67.1" r="0.55" fill="#5b97d6" opacity="1.0"/>
<circle cx="480.6" cy="70.3" r="0.55" fill="#6aa2dc" opacity="1.0"/>
<circle cx="477.8" cy="77.7" r="0.55" fill="#4a8ad0" opacity="1.0"/>
<circle cx="480.5" cy="78.3" r="0.55" fill="#6aa2dc" opacity="1.0"/>
<circle cx="483.6" cy="72.7" r="0.55" fill="#6aa2dc" opacity="1.0"/>
<circle cx="488.2" cy="70.2" r="0.55" fill="#6aa2dc" opacity="1.0"/>
<circle cx="478.3" cy="72.0" r="0.55" fill="#7aaee0" opacity="1.0"/>
<circle cx="481.7" cy="69.9" r="0.55" fill="#5b97d6" opacity="1.0"/>
<circle cx="479.8" cy="74.7" r="0.55" fill="#5b97d6" opacity="1.0"/>
<circle cx="478.3" cy="81.7" r="0.55" fill="#4a8ad0" opacity="1.0"/>
<circle cx="474.7" cy="73.3" r="0.55" fill="#6aa2dc" opacity="1.0"/>
<circle cx="480.2" cy="75.5" r="0.55" fill="#4a8ad0" opacity="1.0"/>
<circle cx="481.2" cy="80.5" r="0.55" fill="#5b97d6" opacity="1.0"/>
<circle cx="485.3" cy="71.0" r="0.55" fill="#7aaee0" opacity="1.0"/>
<circle cx="473.9" cy="74.3" r="0.55" fill="#7aaee0" opacity="1.0"/>
<circle cx="468.0" cy="80.9" r="0.55" fill="#6aa2dc" opacity="1.0"/>
<circle cx="477.1" cy="77.0" r="0.55" fill="#4a8ad0" opacity="1.0"/>
<circle cx="482.5" cy="72.3" r="0.55" fill="#4a8ad0" opacity="1.0"/>
<circle cx="486.6" cy="73.1" r="0.55" fill="#5b97d6" opacity="1.0"/>
<circle cx="466.5" cy="88.0" r="0.55" fill="#5b97d6" opacity="1.0"/>
<circle cx="475.8" cy="76.7" r="0.55" fill="#7aaee0" opacity="1.0"/>
<circle cx="486.9" cy="66.1" r="0.55" fill="#5b97d6" opacity="1.0"/>
<circle cx="475.5" cy="82.0" r="0.55" fill="#6aa2dc" opacity="1.0"/>
<circle cx="482.3" cy="76.2" r="0.55" fill="#4a8ad0" opacity="1.0"/>
<circle cx="475.8" cy="84.5" r="0.55" fill="#4a8ad0" opacity="1.0"/>
<circle cx="481.9" cy="73.2" r="0.55" fill="#5b97d6" opacity="1.0"/>
<circle cx="479.0" cy="79.1" r="0.55" fill="#4a8ad0" opacity="1.0"/>
<circle cx="481.8" cy="70.9" r="0.55" fill="#6aa2dc" opacity="1.0"/>
<circle cx="484.1" cy="75.4" r="0.55" fill="#6aa2dc" opacity="1.0"/>
<circle cx="477.5" cy="76.8" r="0.55" fill="#7aaee0" opacity="1.0"/>
<circle cx="473.4" cy="76.8" r="0.55" fill="#4a8ad0" opacity="1.0"/>
<circle cx="482.2" cy="79.7" r="0.55" fill="#4a8ad0" opacity="1.0"/>
<circle cx="473.0" cy="71.7" r="0.55" fill="#6aa2dc" opacity="1.0"/>
<circle cx="475.6" cy="77.2" r="0.55" fill="#4a8ad0" opacity="1.0"/>
<circle cx="479.7" cy="77.9" r="0.55" fill="#5b97d6" opacity="1.0"/>
<circle cx="485.7" cy="75.2" r="0.55" fill="#4a8ad0" opacity="1.0"/>
<circle cx="473.8" cy="88.0" r="0.55" fill="#6aa2dc" opacity="1.0"/>
<circle cx="477.5" cy="73.7" r="0.55" fill="#4a8ad0" opacity="1.0"/>
<circle cx="490.3" cy="71.7" r="0.55" fill="#6aa2dc" opacity="1.0"/>
<circle cx="483.0" cy="76.4" r="0.55" fill="#5b97d6" opacity="1.0"/>
<circle cx="489.1" cy="68.1" r="0.55" fill="#7aaee0" opacity="1.0"/>
<circle cx="476.1" cy="74.8" r="0.55" fill="#6aa2dc" opacity="1.0"/>
<circle cx="477.8" cy="77.9" r="0.55" fill="#7aaee0" opacity="1.0"/>
<circle cx="483.4" cy="72.6" r="0.55" fill="#7aaee0" opacity="1.0"/>
<circle cx="475.8" cy="74.4" r="0.55" fill="#7aaee0" opacity="1.0"/>
<circle cx="481.5" cy="69.6" r="0.55" fill="#4a8ad0" opacity="1.0"/>
<circle cx="474.8" cy="75.2" r="0.55" fill="#7aaee0" opacity="1.0"/>
<circle cx="477.4" cy="79.0" r="0.55" fill="#5b97d6" opacity="1.0"/>
<circle cx="481.8" cy="72.2" r="0.55" fill="#7aaee0" opacity="1.0"/>
<circle cx="476.0" cy="73.9" r="0.55" fill="#6aa2dc" opacity="1.0"/>
<circle cx="481.3" cy="70.9" r="0.55" fill="#5b97d6" opacity="1.0"/>
<circle cx="475.3" cy="76.9" r="0.55" fill="#4a8ad0" opacity="1.0"/>
<circle cx="482.2" cy="71.6" r="0.55" fill="#5b97d6" opacity="1.0"/>
<circle cx="477.4" cy="80.6" r="0.55" fill="#5b97d6" opacity="1.0"/>
<circle cx="486.0" cy="71.3" r="0.55" fill="#4a8ad0" opacity="1.0"/>
<circle cx="473.2" cy="72.5" r="0.55" fill="#4a8ad0" opacity="1.0"/>
<circle cx="477.8" cy="77.2" r="0.55" fill="#7aaee0" opacity="1.0"/>
<circle cx="472.3" cy="80.7" r="0.55" fill="#5b97d6" opacity="1.0"/>
<circle cx="471.9" cy="77.2" r="0.55" fill="#6aa2dc" opacity="1.0"/>
<circle cx="473.1" cy="86.4" r="0.55" fill="#4a8ad0" opacity="1.0"/>
<circle cx="482.8" cy="72.9" r="0.55" fill="#5b97d6" opacity="1.0"/>
<circle cx="476.7" cy="73.3" r="0.55" fill="#5b97d6" opacity="1.0"/>
<circle cx="481.7" cy="77.6" r="0.55" fill="#5b97d6" opacity="1.0"/>
<circle cx="484.8" cy="71.6" r="0.55" fill="#7aaee0" opacity="1.0"/>
<circle cx="473.3" cy="77.3" r="0.55" fill="#6aa2dc" opacity="1.0"/>
<circle cx="484.0" cy="74.0" r="0.55" fill="#7aaee0" opacity="1.0"/>
<circle cx="484.3" cy="70.0" r="0.55" fill="#4a8ad0" opacity="1.0"/>
<circle cx="491.3" cy="65.2" r="0.55" fill="#7aaee0" opacity="1.0"/>
<circle cx="481.5" cy="76.1" r="0.55" fill="#5b97d6" opacity="1.0"/>
<circle cx="479.9" cy="70.7" r="0.55" fill="#7aaee0" opacity="1.0"/>
<circle cx="473.2" cy="76.8" r="0.55" fill="#4a8ad0" opacity="1.0"/>
<circle cx="478.2" cy="81.3" r="0.55" fill="#7aaee0" opacity="1.0"/>
<circle cx="476.6" cy="79.1" r="0.55" fill="#4a8ad0" opacity="1.0"/>
<circle cx="478.9" cy="72.3" r="0.55" fill="#4a8ad0" opacity="1.0"/>
<circle cx="481.3" cy="78.0" r="0.55" fill="#6aa2dc" opacity="1.0"/>
<circle cx="486.5" cy="69.2" r="0.55" fill="#7aaee0" opacity="1.0"/>
<circle cx="487.3" cy="69.2" r="0.55" fill="#6aa2dc" opacity="1.0"/>
<circle cx="478.0" cy="81.5" r="0.55" fill="#6aa2dc" opacity="1.0"/>
<circle cx="475.5" cy="79.9" r="0.55" fill="#5b97d6" opacity="1.0"/>
<circle cx="476.2" cy="75.8" r="0.55" fill="#6aa2dc" opacity="1.0"/>
<circle cx="480.4" cy="74.1" r="0.55" fill="#6aa2dc" opacity="1.0"/>
<circle cx="479.5" cy="73.9" r="0.55" fill="#6aa2dc" opacity="1.0"/>
<circle cx="479.2" cy="75.7" r="0.55" fill="#5b97d6" opacity="1.0"/>
<circle cx="481.1" cy="75.9" r="0.55" fill="#6aa2dc" opacity="1.0"/>
<circle cx="480.9" cy="76.5" r="0.55" fill="#4a8ad0" opacity="1.0"/>
<circle cx="480.8" cy="72.9" r="0.55" fill="#7aaee0" opacity="1.0"/>
<circle cx="479.4" cy="77.8" r="0.55" fill="#7aaee0" opacity="1.0"/>
<circle cx="479.6" cy="73.6" r="0.55" fill="#5b97d6" opacity="1.0"/>
<circle cx="471.9" cy="75.7" r="0.55" fill="#6aa2dc" opacity="1.0"/>
<circle cx="484.9" cy="76.6" r="0.55" fill="#5b97d6" opacity="1.0"/>
<circle cx="477.8" cy="73.5" r="0.55" fill="#5b97d6" opacity="1.0"/>
<circle cx="476.2" cy="77.9" r="0.55" fill="#4a8ad0" opacity="1.0"/>
<circle cx="480.5" cy="71.3" r="0.55" fill="#5b97d6" opacity="1.0"/>
<circle cx="470.6" cy="84.5" r="0.55" fill="#7aaee0" opacity="1.0"/>
<circle cx="481.2" cy="76.7" r="0.55" fill="#5b97d6" opacity="1.0"/>
<circle cx="483.5" cy="75.2" r="0.55" fill="#7aaee0" opacity="1.0"/>
<circle cx="472.6" cy="75.9" r="0.55" fill="#6aa2dc" opacity="1.0"/>
<circle cx="465.8" cy="95.4" r="0.55" fill="#5b97d6" opacity="1.0"/>
<circle cx="483.4" cy="75.7" r="0.55" fill="#5b97d6" opacity="1.0"/>
<circle cx="481.4" cy="74.4" r="0.55" fill="#6aa2dc" opacity="1.0"/>
<circle cx="480.0" cy="74.0" r="0.55" fill="#7aaee0" opacity="1.0"/>
<circle cx="470.8" cy="84.3" r="0.55" fill="#5b97d6" opacity="1.0"/>
<circle cx="482.9" cy="76.7" r="0.55" fill="#4a8ad0" opacity="1.0"/>
<circle cx="478.4" cy="83.2" r="0.55" fill="#6aa2dc" opacity="1.0"/>
<circle cx="478.4" cy="82.3" r="0.55" fill="#4a8ad0" opacity="1.0"/>
<circle cx="480.8" cy="78.2" r="0.55" fill="#6aa2dc" opacity="1.0"/>
<circle cx="470.9" cy="81.2" r="0.55" fill="#6aa2dc" opacity="1.0"/>
<circle cx="478.5" cy="80.3" r="0.55" fill="#6aa2dc" opacity="1.0"/>
<circle cx="476.4" cy="78.6" r="0.55" fill="#6aa2dc" opacity="1.0"/>
<circle cx="486.1" cy="69.3" r="0.55" fill="#5b97d6" opacity="1.0"/>
<circle cx="479.5" cy="78.8" r="0.55" fill="#6aa2dc" opacity="1.0"/>
<circle cx="492.0" cy="72.2" r="0.55" fill="#5b97d6" opacity="1.0"/>
<circle cx="479.8" cy="74.7" r="0.55" fill="#7aaee0" opacity="1.0"/>
<circle cx="478.5" cy="76.5" r="0.55" fill="#6aa2dc" opacity="1.0"/>
<circle cx="481.4" cy="75.0" r="0.55" fill="#7aaee0" opacity="1.0"/>
<circle cx="473.2" cy="78.1" r="0.55" fill="#7aaee0" opacity="1.0"/>
<circle cx="473.6" cy="77.6" r="0.55" fill="#5b97d6" opacity="1.0"/>
<circle cx="484.2" cy="77.2" r="0.55" fill="#7aaee0" opacity="1.0"/>
<circle cx="477.2" cy="76.3" r="0.55" fill="#4a8ad0" opacity="1.0"/>
<circle cx="481.8" cy="71.1" r="0.55" fill="#5b97d6" opacity="1.0"/>
<circle cx="484.3" cy="69.0" r="0.55" fill="#6aa2dc" opacity="1.0"/>
<circle cx="481.0" cy="73.2" r="0.55" fill="#6aa2dc" opacity="1.0"/>
<circle cx="476.2" cy="77.7" r="0.55" fill="#6aa2dc" opacity="1.0"/>
<circle cx="480.9" cy="75.6" r="0.55" fill="#5b97d6" opacity="1.0"/>
<circle cx="475.3" cy="81.9" r="0.55" fill="#5b97d6" opacity="1.0"/>
<circle cx="474.6" cy="80.3" r="0.55" fill="#5b97d6" opacity="1.0"/>
<circle cx="478.8" cy="72.7" r="0.55" fill="#7aaee0" opacity="1.0"/>
<circle cx="479.4" cy="76.2" r="0.55" fill="#7aaee0" opacity="1.0"/>
<circle cx="464.9" cy="82.2" r="0.55" fill="#4a8ad0" opacity="1.0"/>
<circle cx="483.4" cy="72.6" r="0.6" fill="#5cc040" opacity="1.0"/>
<circle cx="487.0" cy="70.7" r="0.6" fill="#5cc040" opacity="1.0"/>
<circle cx="483.3" cy="71.4" r="0.6" fill="#5cc040" opacity="1.0"/>
<circle cx="484.4" cy="71.1" r="0.6" fill="#5cc040" opacity="1.0"/>
<circle cx="485.5" cy="71.6" r="0.6" fill="#48b858" opacity="1.0"/>
<circle cx="487.7" cy="69.7" r="0.6" fill="#5cc040" opacity="1.0"/>
<circle cx="482.7" cy="73.5" r="0.6" fill="#5cc040" opacity="1.0"/>
<circle cx="483.9" cy="73.7" r="0.6" fill="#70c838" opacity="1.0"/>
<circle cx="485.9" cy="69.0" r="0.6" fill="#5cc040" opacity="1.0"/>
<circle cx="485.2" cy="72.8" r="0.6" fill="#48b858" opacity="1.0"/>
<circle cx="481.6" cy="74.4" r="0.6" fill="#48b858" opacity="1.0"/>
<circle cx="485.4" cy="70.8" r="0.6" fill="#5cc040" opacity="1.0"/>
<circle cx="485.3" cy="71.1" r="0.6" fill="#70c838" opacity="1.0"/>
<circle cx="483.3" cy="70.7" r="0.6" fill="#48b858" opacity="1.0"/>
<circle cx="484.9" cy="73.3" r="0.6" fill="#5cc040" opacity="1.0"/>
<circle cx="487.7" cy="68.8" r="0.6" fill="#70c838" opacity="1.0"/>
<circle cx="486.7" cy="70.6" r="0.6" fill="#70c838" opacity="1.0"/>
<circle cx="484.0" cy="70.5" r="0.6" fill="#5cc040" opacity="1.0"/>
<circle cx="487.7" cy="71.3" r="0.6" fill="#48b858" opacity="1.0"/>
<circle cx="485.8" cy="70.5" r="0.6" fill="#48b858" opacity="1.0"/>
<circle cx="482.3" cy="73.5" r="0.6" fill="#48b858" opacity="1.0"/>
<circle cx="487.4" cy="68.9" r="0.6" fill="#70c838" opacity="1.0"/>
<circle cx="484.8" cy="72.4" r="0.6" fill="#70c838" opacity="1.0"/>
<circle cx="487.4" cy="69.3" r="0.6" fill="#70c838" opacity="1.0"/>
<circle cx="484.6" cy="73.1" r="0.6" fill="#5cc040" opacity="1.0"/>
<circle cx="485.4" cy="69.5" r="0.6" fill="#48b858" opacity="1.0"/>
<circle cx="480.2" cy="72.7" r="0.6" fill="#5cc040" opacity="1.0"/>
<circle cx="483.9" cy="73.5" r="0.6" fill="#70c838" opacity="1.0"/>
<circle cx="484.7" cy="70.5" r="0.6" fill="#48b858" opacity="1.0"/>
<circle cx="485.0" cy="71.4" r="0.6" fill="#48b858" opacity="1.0"/>
<circle cx="485.3" cy="71.9" r="0.6" fill="#5cc040" opacity="1.0"/>
<circle cx="485.1" cy="71.9" r="0.6" fill="#70c838" opacity="1.0"/>
<circle cx="489.1" cy="71.4" r="0.6" fill="#70c838" opacity="1.0"/>
<circle cx="482.3" cy="70.5" r="0.6" fill="#48b858" opacity="1.0"/>
<circle cx="482.8" cy="72.4" r="0.6" fill="#48b858" opacity="1.0"/>
<circle cx="484.9" cy="70.5" r="0.6" fill="#70c838" opacity="1.0"/>
<circle cx="485.9" cy="70.3" r="0.6" fill="#70c838" opacity="1.0"/>
<circle cx="486.8" cy="70.6" r="0.6" fill="#70c838" opacity="1.0"/>
<circle cx="485.8" cy="71.7" r="0.6" fill="#5cc040" opacity="1.0"/>
<circle cx="484.8" cy="70.0" r="0.6" fill="#5cc040" opacity="1.0"/>
<circle cx="483.4" cy="72.1" r="0.6" fill="#5cc040" opacity="1.0"/>
<circle cx="486.0" cy="72.3" r="0.6" fill="#48b858" opacity="1.0"/>
<circle cx="486.0" cy="69.5" r="0.6" fill="#48b858" opacity="1.0"/>
<circle cx="483.9" cy="72.0" r="0.6" fill="#5cc040" opacity="1.0"/>
<circle cx="485.7" cy="71.6" r="0.6" fill="#70c838" opacity="1.0"/>
<circle cx="485.3" cy="72.8" r="0.6" fill="#48b858" opacity="1.0"/>
<circle cx="483.8" cy="73.0" r="0.6" fill="#5cc040" opacity="1.0"/>
<circle cx="486.5" cy="73.3" r="0.6" fill="#48b858" opacity="1.0"/>
<circle cx="484.7" cy="72.0" r="0.6" fill="#70c838" opacity="1.0"/>
<circle cx="484.4" cy="71.8" r="0.6" fill="#48b858" opacity="1.0"/>
<circle cx="488.8" cy="67.7" r="0.55" fill="#4a8ad0" opacity="1.0"/>
<circle cx="490.2" cy="67.0" r="0.55" fill="#5aa0d8" opacity="1.0"/>
<circle cx="497.5" cy="61.8" r="0.55" fill="#6aaade" opacity="1.0"/>
<circle cx="489.4" cy="67.5" r="0.55" fill="#6aaade" opacity="1.0"/>
<circle cx="485.8" cy="72.6" r="0.55" fill="#4a8ad0" opacity="1.0"/>
<circle cx="492.9" cy="61.6" r="0.55" fill="#6aaade" opacity="1.0"/>
<circle cx="492.4" cy="64.6" r="0.55" fill="#5aa0d8" opacity="1.0"/>
<circle cx="491.1" cy="67.1" r="0.55" fill="#5aa0d8" opacity="1.0"/>
<circle cx="485.2" cy="70.1" r="0.55" fill="#6aaade" opacity="1.0"/>
<circle cx="485.8" cy="71.1" r="0.55" fill="#5aa0d8" opacity="1.0"/>
<circle cx="493.5" cy="63.2" r="0.55" fill="#5aa0d8" opacity="1.0"/>
<circle cx="490.8" cy="66.3" r="0.55" fill="#6aaade" opacity="1.0"/>
<circle cx="487.1" cy="68.9" r="0.55" fill="#4a8ad0" opacity="1.0"/>
<circle cx="489.6" cy="67.9" r="0.55" fill="#5aa0d8" opacity="1.0"/>
<circle cx="490.4" cy="68.2" r="0.55" fill="#4a8ad0" opacity="1.0"/>
<circle cx="491.9" cy="66.7" r="0.55" fill="#6aaade" opacity="1.0"/>
<circle cx="492.4" cy="65.6" r="0.55" fill="#4a8ad0" opacity="1.0"/>
<circle cx="495.4" cy="61.8" r="0.55" fill="#5aa0d8" opacity="1.0"/>
<circle cx="492.3" cy="67.9" r="0.55" fill="#4a8ad0" opacity="1.0"/>
<circle cx="484.4" cy="68.1" r="0.55" fill="#5aa0d8" opacity="1.0"/>
<circle cx="494.0" cy="65.4" r="0.55" fill="#5aa0d8" opacity="1.0"/>
<circle cx="495.3" cy="62.7" r="0.55" fill="#6aaade" opacity="1.0"/>
<circle cx="488.3" cy="68.0" r="0.55" fill="#4a8ad0" opacity="1.0"/>
<circle cx="494.0" cy="65.5" r="0.55" fill="#6aaade" opacity="1.0"/>
<circle cx="489.7" cy="68.9" r="0.55" fill="#6aaade" opacity="1.0"/>
<circle cx="493.1" cy="66.3" r="0.55" fill="#5aa0d8" opacity="1.0"/>
<circle cx="496.1" cy="61.2" r="0.55" fill="#6aaade" opacity="1.0"/>
<circle cx="490.6" cy="66.1" r="0.55" fill="#5aa0d8" opacity="1.0"/>
<circle cx="495.9" cy="65.7" r="0.55" fill="#5aa0d8" opacity="1.0"/>
<circle cx="496.4" cy="61.4" r="0.55" fill="#4a8ad0" opacity="1.0"/>
<circle cx="494.3" cy="65.8" r="0.55" fill="#5aa0d8" opacity="1.0"/>
<circle cx="493.8" cy="64.0" r="0.55" fill="#5aa0d8" opacity="1.0"/>
<circle cx="488.6" cy="67.4" r="0.55" fill="#6aaade" opacity="1.0"/>
<circle cx="491.0" cy="67.9" r="0.55" fill="#5aa0d8" opacity="1.0"/>
<circle cx="490.0" cy="67.0" r="0.55" fill="#5aa0d8" opacity="1.0"/>
<circle cx="490.8" cy="66.0" r="0.55" fill="#6aaade" opacity="1.0"/>
<circle cx="489.8" cy="67.5" r="0.55" fill="#5aa0d8" opacity="1.0"/>
<circle cx="492.0" cy="67.8" r="0.55" fill="#5aa0d8" opacity="1.0"/>
<circle cx="495.5" cy="63.8" r="0.55" fill="#6aaade" opacity="1.0"/>
<circle cx="491.0" cy="67.7" r="0.55" fill="#6aaade" opacity="1.0"/>
</g></g>
<rect x="457.5" y="37.1" width="56.90" height="54.10" fill="none" stroke="#707070" stroke-width="0.9"/>
<line x1="488.40" y1="37.10" x2="488.40" y2="91.20" stroke="#505050" stroke-width="0.9"/>
<line x1="457.50" y1="69.20" x2="514.40" y2="69.20" stroke="#505050" stroke-width="0.9"/>
<text x="457.41" y="43.20" font-size="6.71" fill="#111" stroke="#111" stroke-width="0.22" textLength="7.23" lengthAdjust="spacingAndGlyphs">12</text>
<text x="508.74" y="42.54" font-size="6.48" fill="#111" stroke="#111" stroke-width="0.22" textLength="4.50" lengthAdjust="spacingAndGlyphs">8</text>
<text x="511.09" y="90.50" font-size="6.81" fill="#111" stroke="#111" stroke-width="0.22" textLength="2.30" lengthAdjust="spacingAndGlyphs">1</text>
<text x="387.93" y="104.10" font-size="9.52" fill="#111" stroke="#111" stroke-width="0.3" textLength="50.69" lengthAdjust="spacingAndGlyphs">No Fas Ab</text>
<g clip-path="url(#cb2)"><g filter="url(#bl)">
<ellipse cx="404.5" cy="132" rx="9" ry="6" transform="rotate(-25 404.5 132)" fill="#d3e0f2" opacity="0.9"/>
<circle cx="409.8" cy="132.2" r="0.5" fill="#a4c0e4" opacity="0.9"/>
<circle cx="417.7" cy="132.9" r="0.5" fill="#8eb0dc" opacity="0.9"/>
<circle cx="396.6" cy="130.7" r="0.5" fill="#8eb0dc" opacity="0.9"/>
<circle cx="394.7" cy="134.0" r="0.5" fill="#8eb0dc" opacity="0.9"/>
<circle cx="405.4" cy="134.3" r="0.5" fill="#a4c0e4" opacity="0.9"/>
<circle cx="401.5" cy="134.7" r="0.5" fill="#8eb0dc" opacity="0.9"/>
<circle cx="406.2" cy="130.4" r="0.5" fill="#a4c0e4" opacity="0.9"/>
<circle cx="402.4" cy="134.2" r="0.5" fill="#7ea6d8" opacity="0.9"/>
<circle cx="407.1" cy="130.4" r="0.5" fill="#7ea6d8" opacity="0.9"/>
<circle cx="413.7" cy="128.3" r="0.5" fill="#a4c0e4" opacity="0.9"/>
<circle cx="399.0" cy="134.3" r="0.5" fill="#7ea6d8" opacity="0.9"/>
<circle cx="404.9" cy="135.5" r="0.5" fill="#8eb0dc" opacity="0.9"/>
<circle cx="406.9" cy="129.4" r="0.5" fill="#7ea6d8" opacity="0.9"/>
<circle cx="411.3" cy="135.7" r="0.5" fill="#7ea6d8" opacity="0.9"/>
<circle cx="403.1" cy="126.4" r="0.5" fill="#8eb0dc" opacity="0.9"/>
<circle cx="395.3" cy="132.0" r="0.5" fill="#7ea6d8" opacity="0.9"/>
<circle cx="400.9" cy="127.0" r="0.5" fill="#8eb0dc" opacity="0.9"/>
<circle cx="408.4" cy="135.4" r="0.5" fill="#7ea6d8" opacity="0.9"/>
<circle cx="401.5" cy="131.6" r="0.5" fill="#a4c0e4" opacity="0.9"/>
<circle cx="405.6" cy="132.9" r="0.5" fill="#7ea6d8" opacity="0.9"/>
<circle cx="394.7" cy="135.8" r="0.5" fill="#8eb0dc" opacity="0.9"/>
<circle cx="399.8" cy="133.8" r="0.5" fill="#a4c0e4" opacity="0.9"/>
<circle cx="407.3" cy="124.0" r="0.5" fill="#a4c0e4" opacity="0.9"/>
<circle cx="409.7" cy="131.7" r="0.5" fill="#a4c0e4" opacity="0.9"/>
<circle cx="411.1" cy="133.2" r="0.5" fill="#8eb0dc" opacity="0.9"/>
<circle cx="410.9" cy="135.9" r="0.5" fill="#a4c0e4" opacity="0.9"/>
<circle cx="412.6" cy="129.5" r="0.5" fill="#7ea6d8" opacity="0.9"/>
<circle cx="404.0" cy="132.0" r="0.5" fill="#7ea6d8" opacity="0.9"/>
<circle cx="414.7" cy="122.7" r="0.5" fill="#8eb0dc" opacity="0.9"/>
<circle cx="411.9" cy="132.8" r="0.5" fill="#a4c0e4" opacity="0.9"/>
<circle cx="403.2" cy="124.7" r="0.5" fill="#7ea6d8" opacity="0.9"/>
<circle cx="404.0" cy="130.8" r="0.5" fill="#8eb0dc" opacity="0.9"/>
<circle cx="409.5" cy="128.2" r="0.5" fill="#7ea6d8" opacity="0.9"/>
<circle cx="413.8" cy="128.7" r="0.5" fill="#8eb0dc" opacity="0.9"/>
<circle cx="417.9" cy="126.9" r="0.5" fill="#8eb0dc" opacity="0.9"/>
<circle cx="401.7" cy="131.7" r="0.5" fill="#a4c0e4" opacity="0.9"/>
<circle cx="407.4" cy="138.0" r="0.5" fill="#8eb0dc" opacity="0.9"/>
<circle cx="416.2" cy="127.5" r="0.5" fill="#7ea6d8" opacity="0.9"/>
<circle cx="405.1" cy="132.4" r="0.5" fill="#7ea6d8" opacity="0.9"/>
<circle cx="399.6" cy="131.0" r="0.5" fill="#8eb0dc" opacity="0.9"/>
<circle cx="403.1" cy="130.9" r="0.5" fill="#8eb0dc" opacity="0.9"/>
<circle cx="403.7" cy="131.2" r="0.5" fill="#8eb0dc" opacity="0.9"/>
<circle cx="398.5" cy="136.0" r="0.5" fill="#a4c0e4" opacity="0.9"/>
<circle cx="407.0" cy="132.1" r="0.5" fill="#8eb0dc" opacity="0.9"/>
<circle cx="400.8" cy="133.1" r="0.5" fill="#8eb0dc" opacity="0.9"/>
<circle cx="410.0" cy="133.5" r="0.5" fill="#7ea6d8" opacity="0.9"/>
<circle cx="397.2" cy="141.4" r="0.5" fill="#8eb0dc" opacity="0.9"/>
<circle cx="408.4" cy="128.6" r="0.5" fill="#a4c0e4" opacity="0.9"/>
<circle cx="397.8" cy="132.1" r="0.5" fill="#8eb0dc" opacity="0.9"/>
<circle cx="397.4" cy="141.2" r="0.5" fill="#a4c0e4" opacity="0.9"/>
<circle cx="403.5" cy="135.0" r="0.5" fill="#a4c0e4" opacity="0.9"/>
<circle cx="399.5" cy="126.9" r="0.5" fill="#7ea6d8" opacity="0.9"/>
<circle cx="404.9" cy="123.5" r="0.5" fill="#a4c0e4" opacity="0.9"/>
<circle cx="405.0" cy="130.7" r="0.5" fill="#7ea6d8" opacity="0.9"/>
<circle cx="410.9" cy="133.7" r="0.5" fill="#a4c0e4" opacity="0.9"/>
<circle cx="406.2" cy="135.4" r="0.5" fill="#7ea6d8" opacity="0.9"/>
<circle cx="406.9" cy="131.0" r="0.5" fill="#8eb0dc" opacity="0.9"/>
<circle cx="410.0" cy="131.1" r="0.5" fill="#7ea6d8" opacity="0.9"/>
<circle cx="401.8" cy="130.8" r="0.5" fill="#a4c0e4" opacity="0.9"/>
<circle cx="412.4" cy="126.9" r="0.5" fill="#a4c0e4" opacity="0.9"/>
<circle cx="396.3" cy="130.5" r="0.5" fill="#8eb0dc" opacity="0.9"/>
<circle cx="411.9" cy="129.6" r="0.5" fill="#a4c0e4" opacity="0.9"/>
<circle cx="409.4" cy="126.9" r="0.5" fill="#7ea6d8" opacity="0.9"/>
<circle cx="392.7" cy="135.3" r="0.5" fill="#7ea6d8" opacity="0.9"/>
<circle cx="407.0" cy="132.0" r="0.5" fill="#8eb0dc" opacity="0.9"/>
<circle cx="394.9" cy="140.6" r="0.5" fill="#a4c0e4" opacity="0.9"/>
<circle cx="408.9" cy="132.3" r="0.5" fill="#8eb0dc" opacity="0.9"/>
<circle cx="410.8" cy="132.7" r="0.5" fill="#7ea6d8" opacity="0.9"/>
<circle cx="405.8" cy="130.4" r="0.5" fill="#7ea6d8" opacity="0.9"/>
<circle cx="401.6" cy="132.9" r="0.5" fill="#8eb0dc" opacity="0.9"/>
<circle cx="394.0" cy="136.5" r="0.5" fill="#a4c0e4" opacity="0.9"/>
<circle cx="400.4" cy="132.5" r="0.5" fill="#7ea6d8" opacity="0.9"/>
<circle cx="410.8" cy="131.6" r="0.5" fill="#a4c0e4" opacity="0.9"/>
<circle cx="398.2" cy="131.7" r="0.5" fill="#7ea6d8" opacity="0.9"/>
<circle cx="401.1" cy="137.0" r="0.5" fill="#a4c0e4" opacity="0.9"/>
<circle cx="398.9" cy="135.9" r="0.5" fill="#7ea6d8" opacity="0.9"/>
<circle cx="395.8" cy="137.2" r="0.5" fill="#8eb0dc" opacity="0.9"/>
<circle cx="405.8" cy="134.2" r="0.5" fill="#7ea6d8" opacity="0.9"/>
<circle cx="390.8" cy="135.6" r="0.5" fill="#a4c0e4" opacity="0.9"/>
<circle cx="409.2" cy="130.0" r="0.5" fill="#8eb0dc" opacity="0.9"/>
<circle cx="403.8" cy="135.5" r="0.5" fill="#a4c0e4" opacity="0.9"/>
<circle cx="405.8" cy="142.9" r="0.5" fill="#a4c0e4" opacity="0.9"/>
<circle cx="405.6" cy="131.8" r="0.5" fill="#7ea6d8" opacity="0.9"/>
<circle cx="414.9" cy="130.3" r="0.5" fill="#a4c0e4" opacity="0.9"/>
<circle cx="399.6" cy="130.3" r="0.5" fill="#a4c0e4" opacity="0.9"/>
<circle cx="401.5" cy="138.8" r="0.5" fill="#7ea6d8" opacity="0.9"/>
<circle cx="410.4" cy="139.2" r="0.5" fill="#7ea6d8" opacity="0.9"/>
<circle cx="408.6" cy="128.4" r="0.5" fill="#7ea6d8" opacity="0.9"/>
<circle cx="401.9" cy="138.0" r="0.5" fill="#7ea6d8" opacity="0.9"/>
<circle cx="400.6" cy="131.8" r="0.5" fill="#7ea6d8" opacity="0.9"/>
<circle cx="414.3" cy="131.7" r="0.5" fill="#a4c0e4" opacity="0.9"/>
<circle cx="405.9" cy="136.9" r="0.5" fill="#7ea6d8" opacity="0.9"/>
<circle cx="406.3" cy="130.1" r="0.5" fill="#8eb0dc" opacity="0.9"/>
<circle cx="413.0" cy="128.1" r="0.5" fill="#7ea6d8" opacity="0.9"/>
<circle cx="409.2" cy="132.4" r="0.5" fill="#7ea6d8" opacity="0.9"/>
<circle cx="412.7" cy="134.4" r="0.5" fill="#a4c0e4" opacity="0.9"/>
<circle cx="407.7" cy="126.5" r="0.5" fill="#a4c0e4" opacity="0.9"/>
<circle cx="407.1" cy="125.8" r="0.5" fill="#a4c0e4" opacity="0.9"/>
<circle cx="402.5" cy="129.7" r="0.5" fill="#a4c0e4" opacity="0.9"/>
<circle cx="397.6" cy="134.5" r="0.5" fill="#7ea6d8" opacity="0.9"/>
<circle cx="403.2" cy="139.0" r="0.5" fill="#a4c0e4" opacity="0.9"/>
<circle cx="402.3" cy="135.3" r="0.5" fill="#7ea6d8" opacity="0.9"/>
<circle cx="404.4" cy="134.2" r="0.5" fill="#7ea6d8" opacity="0.9"/>
<circle cx="402.7" cy="134.9" r="0.5" fill="#a4c0e4" opacity="0.9"/>
<circle cx="402.9" cy="139.6" r="0.5" fill="#8eb0dc" opacity="0.9"/>
<circle cx="407.5" cy="129.9" r="0.5" fill="#a4c0e4" opacity="0.9"/>
<circle cx="411.6" cy="122.3" r="0.5" fill="#8eb0dc" opacity="0.9"/>
<circle cx="411.2" cy="130.3" r="0.5" fill="#a4c0e4" opacity="0.9"/>
<circle cx="404.5" cy="136.7" r="0.5" fill="#a4c0e4" opacity="0.9"/>
<circle cx="386.0" cy="137.5" r="0.5" fill="#7ea6d8" opacity="0.9"/>
<circle cx="405.9" cy="125.6" r="0.5" fill="#a4c0e4" opacity="0.9"/>
<circle cx="401.9" cy="135.7" r="0.5" fill="#7ea6d8" opacity="0.9"/>
<circle cx="400.5" cy="130.0" r="0.5" fill="#8eb0dc" opacity="0.9"/>
<circle cx="400.1" cy="129.8" r="0.5" fill="#8eb0dc" opacity="0.9"/>
<circle cx="400.6" cy="136.4" r="0.5" fill="#7ea6d8" opacity="0.9"/>
<circle cx="397.7" cy="133.3" r="0.5" fill="#8eb0dc" opacity="0.9"/>
<circle cx="409.7" cy="128.5" r="0.5" fill="#a4c0e4" opacity="0.9"/>
<circle cx="402.3" cy="124.5" r="0.5" fill="#7ea6d8" opacity="0.9"/>
<circle cx="402.7" cy="136.9" r="0.5" fill="#8eb0dc" opacity="0.9"/>
<circle cx="407.8" cy="133.5" r="0.5" fill="#8eb0dc" opacity="0.9"/>
<circle cx="405.6" cy="127.2" r="0.5" fill="#8eb0dc" opacity="0.9"/>
<circle cx="401.1" cy="130.9" r="0.5" fill="#a4c0e4" opacity="0.9"/>
<circle cx="406.7" cy="120.0" r="0.5" fill="#a4c0e4" opacity="0.9"/>
<circle cx="399.0" cy="131.1" r="0.5" fill="#7ea6d8" opacity="0.9"/>
<circle cx="410.4" cy="137.3" r="0.5" fill="#a4c0e4" opacity="0.9"/>
<circle cx="409.4" cy="134.8" r="0.5" fill="#7ea6d8" opacity="0.9"/>
<circle cx="410.8" cy="132.2" r="0.5" fill="#7ea6d8" opacity="0.9"/>
<circle cx="403.2" cy="131.7" r="0.5" fill="#a4c0e4" opacity="0.9"/>
<circle cx="404.9" cy="131.8" r="0.5" fill="#7ea6d8" opacity="0.9"/>
<circle cx="404.2" cy="131.8" r="0.5" fill="#a4c0e4" opacity="0.9"/>
<circle cx="405.2" cy="132.0" r="0.55" fill="#5d92cf" opacity="1.0"/>
<circle cx="404.5" cy="130.3" r="0.55" fill="#6b9ad6" opacity="1.0"/>
<circle cx="405.2" cy="128.2" r="0.55" fill="#4e86c8" opacity="1.0"/>
<circle cx="408.0" cy="128.2" r="0.55" fill="#5d92cf" opacity="1.0"/>
<circle cx="402.9" cy="131.4" r="0.55" fill="#5d92cf" opacity="1.0"/>
<circle cx="409.0" cy="131.9" r="0.55" fill="#4e86c8" opacity="1.0"/>
<circle cx="407.3" cy="131.1" r="0.55" fill="#5d92cf" opacity="1.0"/>
<circle cx="408.8" cy="128.7" r="0.55" fill="#6b9ad6" opacity="1.0"/>
<circle cx="400.9" cy="130.6" r="0.55" fill="#5d92cf" opacity="1.0"/>
<circle cx="402.3" cy="129.8" r="0.55" fill="#4e86c8" opacity="1.0"/>
<circle cx="405.3" cy="134.8" r="0.55" fill="#6b9ad6" opacity="1.0"/>
<circle cx="406.1" cy="131.6" r="0.55" fill="#4e86c8" opacity="1.0"/>
<circle cx="412.3" cy="131.1" r="0.55" fill="#4e86c8" opacity="1.0"/>
<circle cx="408.0" cy="130.7" r="0.55" fill="#4e86c8" opacity="1.0"/>
<circle cx="405.5" cy="131.8" r="0.55" fill="#6b9ad6" opacity="1.0"/>
<circle cx="398.5" cy="131.6" r="0.55" fill="#6b9ad6" opacity="1.0"/>
<circle cx="408.2" cy="130.5" r="0.55" fill="#5d92cf" opacity="1.0"/>
<circle cx="413.0" cy="129.2" r="0.55" fill="#5d92cf" opacity="1.0"/>
<circle cx="405.4" cy="136.1" r="0.55" fill="#6b9ad6" opacity="1.0"/>
<circle cx="405.9" cy="134.2" r="0.55" fill="#6b9ad6" opacity="1.0"/>
<circle cx="407.0" cy="130.4" r="0.55" fill="#4e86c8" opacity="1.0"/>
<circle cx="403.4" cy="134.7" r="0.55" fill="#5d92cf" opacity="1.0"/>
<circle cx="404.0" cy="133.2" r="0.55" fill="#4e86c8" opacity="1.0"/>
<circle cx="401.1" cy="133.8" r="0.55" fill="#5d92cf" opacity="1.0"/>
<circle cx="407.8" cy="130.9" r="0.55" fill="#6b9ad6" opacity="1.0"/>
<circle cx="411.3" cy="134.4" r="0.55" fill="#6b9ad6" opacity="1.0"/>
<circle cx="404.4" cy="133.2" r="0.55" fill="#6b9ad6" opacity="1.0"/>
<circle cx="403.0" cy="131.9" r="0.55" fill="#6b9ad6" opacity="1.0"/>
<circle cx="399.7" cy="129.0" r="0.55" fill="#6b9ad6" opacity="1.0"/>
<circle cx="406.4" cy="128.8" r="0.55" fill="#5d92cf" opacity="1.0"/>
<circle cx="404.2" cy="133.6" r="0.55" fill="#6b9ad6" opacity="1.0"/>
<circle cx="406.3" cy="131.5" r="0.55" fill="#4e86c8" opacity="1.0"/>
<circle cx="411.4" cy="129.1" r="0.55" fill="#5d92cf" opacity="1.0"/>
<circle cx="405.2" cy="130.3" r="0.55" fill="#6b9ad6" opacity="1.0"/>
<circle cx="400.7" cy="132.4" r="0.55" fill="#4e86c8" opacity="1.0"/>
<circle cx="401.5" cy="134.8" r="0.55" fill="#5d92cf" opacity="1.0"/>
<circle cx="408.2" cy="131.9" r="0.55" fill="#4e86c8" opacity="1.0"/>
<circle cx="403.4" cy="134.2" r="0.55" fill="#4e86c8" opacity="1.0"/>
<circle cx="410.1" cy="134.8" r="0.55" fill="#4e86c8" opacity="1.0"/>
<circle cx="409.4" cy="134.0" r="0.55" fill="#4e86c8" opacity="1.0"/>
<circle cx="410.2" cy="131.8" r="0.55" fill="#6b9ad6" opacity="1.0"/>
<circle cx="402.9" cy="131.0" r="0.55" fill="#6b9ad6" opacity="1.0"/>
<circle cx="402.9" cy="131.9" r="0.55" fill="#4e86c8" opacity="1.0"/>
<circle cx="409.3" cy="134.3" r="0.55" fill="#5d92cf" opacity="1.0"/>
<circle cx="405.1" cy="130.5" r="0.55" fill="#6b9ad6" opacity="1.0"/>
<circle cx="403.9" cy="127.9" r="0.55" fill="#5d92cf" opacity="1.0"/>
<circle cx="402.9" cy="129.8" r="0.55" fill="#6b9ad6" opacity="1.0"/>
<circle cx="410.7" cy="129.1" r="0.55" fill="#4e86c8" opacity="1.0"/>
<circle cx="410.2" cy="133.3" r="0.55" fill="#6b9ad6" opacity="1.0"/>
<circle cx="410.2" cy="133.8" r="0.55" fill="#5d92cf" opacity="1.0"/>
<circle cx="403.1" cy="131.5" r="0.55" fill="#4e86c8" opacity="1.0"/>
<circle cx="405.5" cy="129.7" r="0.55" fill="#4e86c8" opacity="1.0"/>
<circle cx="405.9" cy="132.7" r="0.55" fill="#5d92cf" opacity="1.0"/>
<circle cx="406.3" cy="128.6" r="0.55" fill="#6b9ad6" opacity="1.0"/>
<circle cx="402.0" cy="136.0" r="0.55" fill="#4e86c8" opacity="1.0"/>
<circle cx="409.0" cy="126.3" r="0.55" fill="#5d92cf" opacity="1.0"/>
<circle cx="407.4" cy="129.7" r="0.55" fill="#6b9ad6" opacity="1.0"/>
<circle cx="402.9" cy="129.2" r="0.55" fill="#6b9ad6" opacity="1.0"/>
<circle cx="406.4" cy="130.5" r="0.55" fill="#4e86c8" opacity="1.0"/>
<circle cx="404.6" cy="129.9" r="0.55" fill="#6b9ad6" opacity="1.0"/>
<circle cx="404.7" cy="134.4" r="0.55" fill="#5d92cf" opacity="1.0"/>
<circle cx="406.1" cy="132.8" r="0.55" fill="#4e86c8" opacity="1.0"/>
<circle cx="404.0" cy="128.1" r="0.55" fill="#5d92cf" opacity="1.0"/>
<circle cx="403.5" cy="134.1" r="0.55" fill="#6b9ad6" opacity="1.0"/>
<circle cx="407.6" cy="132.2" r="0.55" fill="#6b9ad6" opacity="1.0"/>
<circle cx="404.5" cy="128.6" r="0.55" fill="#4e86c8" opacity="1.0"/>
<circle cx="404.4" cy="130.6" r="0.55" fill="#5d92cf" opacity="1.0"/>
<circle cx="401.2" cy="131.7" r="0.55" fill="#6b9ad6" opacity="1.0"/>
<circle cx="409.2" cy="127.8" r="0.55" fill="#4e86c8" opacity="1.0"/>
<circle cx="406.0" cy="131.1" r="0.55" fill="#4e86c8" opacity="1.0"/>
<circle cx="406.1" cy="131.7" r="0.55" fill="#4e86c8" opacity="1.0"/>
<circle cx="405.1" cy="131.0" r="0.55" fill="#5d92cf" opacity="1.0"/>
<circle cx="405.4" cy="130.7" r="0.55" fill="#6b9ad6" opacity="1.0"/>
<circle cx="409.6" cy="134.5" r="0.55" fill="#4e86c8" opacity="1.0"/>
<circle cx="408.1" cy="128.7" r="0.55" fill="#4e86c8" opacity="1.0"/>
<circle cx="403.2" cy="134.8" r="0.55" fill="#5d92cf" opacity="1.0"/>
<circle cx="406.2" cy="132.0" r="0.55" fill="#6b9ad6" opacity="1.0"/>
<circle cx="403.8" cy="132.8" r="0.55" fill="#4e86c8" opacity="1.0"/>
<circle cx="403.8" cy="127.5" r="0.55" fill="#4e86c8" opacity="1.0"/>
<circle cx="402.8" cy="130.5" r="0.55" fill="#4e86c8" opacity="1.0"/>
<circle cx="404.1" cy="129.5" r="0.55" fill="#4e86c8" opacity="1.0"/>
<circle cx="407.5" cy="126.8" r="0.55" fill="#6b9ad6" opacity="1.0"/>
<circle cx="405.8" cy="130.4" r="0.55" fill="#4e86c8" opacity="1.0"/>
<circle cx="406.6" cy="127.9" r="0.55" fill="#5d92cf" opacity="1.0"/>
<circle cx="398.0" cy="133.0" r="0.55" fill="#4e86c8" opacity="1.0"/>
<circle cx="406.9" cy="132.4" r="0.55" fill="#5d92cf" opacity="1.0"/>
<circle cx="408.1" cy="132.0" r="0.55" fill="#5d92cf" opacity="1.0"/>
<circle cx="407.5" cy="132.3" r="0.55" fill="#5d92cf" opacity="1.0"/>
<circle cx="403.7" cy="129.5" r="0.55" fill="#6b9ad6" opacity="1.0"/>
<circle cx="406.9" cy="132.4" r="0.55" fill="#4e86c8" opacity="1.0"/>
<circle cx="405.0" cy="130.3" r="0.55" fill="#4e86c8" opacity="1.0"/>
<circle cx="405.2" cy="133.0" r="0.55" fill="#4e86c8" opacity="1.0"/>
<circle cx="409.3" cy="131.9" r="0.55" fill="#6b9ad6" opacity="1.0"/>
<circle cx="404.7" cy="130.8" r="0.55" fill="#6b9ad6" opacity="1.0"/>
<circle cx="405.5" cy="129.7" r="0.55" fill="#4e86c8" opacity="1.0"/>
<circle cx="412.7" cy="133.4" r="0.55" fill="#6b9ad6" opacity="1.0"/>
<circle cx="406.3" cy="129.8" r="0.55" fill="#6b9ad6" opacity="1.0"/>
<circle cx="409.4" cy="129.6" r="0.55" fill="#5d92cf" opacity="1.0"/>
<circle cx="408.5" cy="130.5" r="0.55" fill="#5d92cf" opacity="1.0"/>
<circle cx="408.4" cy="131.2" r="0.55" fill="#5d92cf" opacity="1.0"/>
<circle cx="403.6" cy="149.6" r="0.5" fill="#a0bce2" opacity="1.0"/>
<circle cx="399.2" cy="147.3" r="0.5" fill="#b3c8e6" opacity="1.0"/>
<circle cx="405.9" cy="146.6" r="0.5" fill="#c5d5ec" opacity="1.0"/>
<circle cx="407.2" cy="149.0" r="0.5" fill="#a0bce2" opacity="1.0"/>
<circle cx="399.0" cy="144.1" r="0.5" fill="#c5d5ec" opacity="1.0"/>
<circle cx="406.0" cy="143.4" r="0.5" fill="#a0bce2" opacity="1.0"/>
<circle cx="399.1" cy="149.2" r="0.5" fill="#b3c8e6" opacity="1.0"/>
<circle cx="397.1" cy="139.5" r="0.5" fill="#a0bce2" opacity="1.0"/>
<circle cx="399.0" cy="141.9" r="0.5" fill="#b3c8e6" opacity="1.0"/>
<circle cx="407.6" cy="148.9" r="0.5" fill="#b3c8e6" opacity="1.0"/>
<circle cx="402.3" cy="135.5" r="0.5" fill="#c5d5ec" opacity="1.0"/>
<circle cx="393.2" cy="154.4" r="0.5" fill="#a0bce2" opacity="1.0"/>
<circle cx="406.8" cy="135.6" r="0.5" fill="#b3c8e6" opacity="1.0"/>
<circle cx="406.7" cy="149.8" r="0.5" fill="#c5d5ec" opacity="1.0"/>
<circle cx="400.8" cy="140.6" r="0.5" fill="#b3c8e6" opacity="1.0"/>
<circle cx="398.5" cy="141.3" r="0.5" fill="#b3c8e6" opacity="1.0"/>
<circle cx="397.1" cy="149.7" r="0.5" fill="#c5d5ec" opacity="1.0"/>
<circle cx="402.8" cy="141.7" r="0.5" fill="#b3c8e6" opacity="1.0"/>
<circle cx="406.6" cy="146.7" r="0.5" fill="#a0bce2" opacity="1.0"/>
<circle cx="417.9" cy="134.9" r="0.5" fill="#c5d5ec" opacity="1.0"/>
<circle cx="410.0" cy="138.2" r="0.5" fill="#c5d5ec" opacity="1.0"/>
<circle cx="394.5" cy="148.8" r="0.5" fill="#c5d5ec" opacity="1.0"/>
<circle cx="396.0" cy="140.8" r="0.5" fill="#b3c8e6" opacity="1.0"/>
<circle cx="400.0" cy="142.2" r="0.5" fill="#c5d5ec" opacity="1.0"/>
<circle cx="398.0" cy="141.2" r="0.5" fill="#b3c8e6" opacity="1.0"/>
<circle cx="404.0" cy="140.4" r="0.5" fill="#b3c8e6" opacity="1.0"/>
<circle cx="400.9" cy="144.6" r="0.5" fill="#a0bce2" opacity="1.0"/>
<circle cx="405.9" cy="138.1" r="0.5" fill="#c5d5ec" opacity="1.0"/>
<circle cx="402.1" cy="146.5" r="0.5" fill="#b3c8e6" opacity="1.0"/>
<circle cx="396.3" cy="144.5" r="0.5" fill="#c5d5ec" opacity="1.0"/>
<circle cx="401.6" cy="145.3" r="0.5" fill="#b3c8e6" opacity="1.0"/>
<circle cx="403.2" cy="143.3" r="0.5" fill="#c5d5ec" opacity="1.0"/>
<circle cx="409.1" cy="145.2" r="0.5" fill="#a0bce2" opacity="1.0"/>
<circle cx="399.3" cy="147.7" r="0.5" fill="#b3c8e6" opacity="1.0"/>
<circle cx="395.8" cy="143.4" r="0.5" fill="#c5d5ec" opacity="1.0"/>
</g></g>
<rect x="387.1" y="105.5" width="56.90" height="54.90" fill="none" stroke="#707070" stroke-width="0.9"/>
<line x1="417.90" y1="105.50" x2="417.90" y2="160.40" stroke="#505050" stroke-width="0.9"/>
<line x1="387.10" y1="138.40" x2="444.00" y2="138.40" stroke="#505050" stroke-width="0.9"/>
<text x="388.46" y="111.33" font-size="6.71" fill="#111" stroke="#111" stroke-width="0.22" textLength="7.63" lengthAdjust="spacingAndGlyphs">75</text>
<text x="432.69" y="111.43" font-size="6.76" fill="#111" stroke="#111" stroke-width="0.22" textLength="10.69" lengthAdjust="spacingAndGlyphs">0.2</text>
<text x="428.49" y="158.84" font-size="6.48" fill="#111" stroke="#111" stroke-width="0.22" textLength="14.95" lengthAdjust="spacingAndGlyphs">0.04</text>
<text x="457.94" y="104.10" font-size="9.52" fill="#111" stroke="#111" stroke-width="0.3" textLength="55.93" lengthAdjust="spacingAndGlyphs">No FasL Ab</text>
<g clip-path="url(#cb3)"><g filter="url(#bl)">
<ellipse cx="492" cy="148" rx="8" ry="6" fill="#e2eaf6" opacity="0.8"/>
<circle cx="500.2" cy="147.9" r="0.5" fill="#c8d8ee" opacity="0.75"/>
<circle cx="503.2" cy="147.8" r="0.5" fill="#b8cde9" opacity="0.75"/>
<circle cx="484.1" cy="148.1" r="0.5" fill="#acc4e6" opacity="0.75"/>
<circle cx="477.8" cy="147.3" r="0.5" fill="#a0bce2" opacity="0.75"/>
<circle cx="491.8" cy="148.1" r="0.5" fill="#c8d8ee" opacity="0.75"/>
<circle cx="480.8" cy="153.2" r="0.5" fill="#b8cde9" opacity="0.75"/>
<circle cx="486.3" cy="147.1" r="0.5" fill="#a0bce2" opacity="0.75"/>
<circle cx="481.4" cy="147.3" r="0.5" fill="#acc4e6" opacity="0.75"/>
<circle cx="465.0" cy="146.1" r="0.5" fill="#acc4e6" opacity="0.75"/>
<circle cx="472.9" cy="148.5" r="0.5" fill="#a0bce2" opacity="0.75"/>
<circle cx="482.6" cy="152.5" r="0.5" fill="#c8d8ee" opacity="0.75"/>
<circle cx="479.3" cy="148.9" r="0.5" fill="#acc4e6" opacity="0.75"/>
<circle cx="480.0" cy="147.3" r="0.5" fill="#acc4e6" opacity="0.75"/>
<circle cx="481.5" cy="146.6" r="0.5" fill="#a0bce2" opacity="0.75"/>
<circle cx="484.5" cy="154.9" r="0.5" fill="#b8cde9" opacity="0.75"/>
<circle cx="481.4" cy="140.3" r="0.5" fill="#b8cde9" opacity="0.75"/>
<circle cx="490.2" cy="144.4" r="0.5" fill="#a0bce2" opacity="0.75"/>
<circle cx="489.3" cy="153.2" r="0.5" fill="#b8cde9" opacity="0.75"/>
<circle cx="468.8" cy="141.9" r="0.5" fill="#b8cde9" opacity="0.75"/>
<circle cx="471.2" cy="151.1" r="0.5" fill="#c8d8ee" opacity="0.75"/>
<circle cx="488.1" cy="149.0" r="0.5" fill="#a0bce2" opacity="0.75"/>
<circle cx="483.7" cy="147.2" r="0.5" fill="#b8cde9" opacity="0.75"/>
<circle cx="480.9" cy="150.2" r="0.5" fill="#b8cde9" opacity="0.75"/>
<circle cx="493.7" cy="150.0" r="0.5" fill="#c8d8ee" opacity="0.75"/>
<circle cx="479.1" cy="150.0" r="0.5" fill="#c8d8ee" opacity="0.75"/>
<circle cx="468.0" cy="153.4" r="0.5" fill="#c8d8ee" opacity="0.75"/>
<circle cx="466.5" cy="145.9" r="0.5" fill="#acc4e6" opacity="0.75"/>
<circle cx="489.5" cy="155.5" r="0.5" fill="#acc4e6" opacity="0.75"/>
<circle cx="487.4" cy="143.0" r="0.5" fill="#b8cde9" opacity="0.75"/>
<circle cx="484.9" cy="147.6" r="0.5" fill="#acc4e6" opacity="0.75"/>
<circle cx="473.3" cy="149.1" r="0.5" fill="#acc4e6" opacity="0.75"/>
<circle cx="482.6" cy="148.3" r="0.5" fill="#acc4e6" opacity="0.75"/>
<circle cx="491.2" cy="152.6" r="0.5" fill="#b8cde9" opacity="0.75"/>
<circle cx="500.2" cy="151.5" r="0.5" fill="#c8d8ee" opacity="0.75"/>
<circle cx="482.8" cy="152.3" r="0.5" fill="#a0bce2" opacity="0.75"/>
<circle cx="506.7" cy="151.2" r="0.5" fill="#a0bce2" opacity="0.75"/>
<circle cx="484.2" cy="150.1" r="0.5" fill="#b8cde9" opacity="0.75"/>
<circle cx="488.5" cy="151.0" r="0.5" fill="#c8d8ee" opacity="0.75"/>
<circle cx="476.8" cy="148.3" r="0.5" fill="#a0bce2" opacity="0.75"/>
<circle cx="488.5" cy="144.7" r="0.5" fill="#acc4e6" opacity="0.75"/>
<circle cx="471.1" cy="148.0" r="0.5" fill="#acc4e6" opacity="0.75"/>
<circle cx="484.3" cy="149.3" r="0.5" fill="#acc4e6" opacity="0.75"/>
<circle cx="492.2" cy="149.3" r="0.5" fill="#a0bce2" opacity="0.75"/>
<circle cx="493.0" cy="144.1" r="0.5" fill="#b8cde9" opacity="0.75"/>
<circle cx="492.9" cy="152.1" r="0.5" fill="#a0bce2" opacity="0.75"/>
<circle cx="494.5" cy="140.3" r="0.5" fill="#a0bce2" opacity="0.75"/>
<circle cx="470.3" cy="154.8" r="0.5" fill="#b8cde9" opacity="0.75"/>
<circle cx="476.7" cy="153.4" r="0.5" fill="#acc4e6" opacity="0.75"/>
<circle cx="491.4" cy="146.0" r="0.5" fill="#b8cde9" opacity="0.75"/>
<circle cx="486.6" cy="157.0" r="0.5" fill="#a0bce2" opacity="0.75"/>
<circle cx="478.6" cy="153.6" r="0.5" fill="#acc4e6" opacity="0.75"/>
<circle cx="480.2" cy="153.0" r="0.5" fill="#a0bce2" opacity="0.75"/>
<circle cx="482.2" cy="150.2" r="0.5" fill="#a0bce2" opacity="0.75"/>
<circle cx="490.8" cy="145.5" r="0.5" fill="#c8d8ee" opacity="0.75"/>
<circle cx="482.4" cy="147.2" r="0.5" fill="#a0bce2" opacity="0.75"/>
<circle cx="481.6" cy="154.4" r="0.5" fill="#acc4e6" opacity="0.75"/>
<circle cx="476.5" cy="153.8" r="0.5" fill="#c8d8ee" opacity="0.75"/>
<circle cx="485.1" cy="149.4" r="0.5" fill="#b8cde9" opacity="0.75"/>
<circle cx="492.6" cy="144.3" r="0.5" fill="#b8cde9" opacity="0.75"/>
<circle cx="478.8" cy="152.1" r="0.5" fill="#c8d8ee" opacity="0.75"/>
<circle cx="496.2" cy="142.4" r="0.5" fill="#b8cde9" opacity="0.75"/>
<circle cx="478.5" cy="156.2" r="0.5" fill="#acc4e6" opacity="0.75"/>
<circle cx="471.7" cy="149.2" r="0.5" fill="#acc4e6" opacity="0.75"/>
<circle cx="491.9" cy="144.7" r="0.5" fill="#acc4e6" opacity="0.75"/>
<circle cx="489.7" cy="150.9" r="0.5" fill="#acc4e6" opacity="0.75"/>
<circle cx="493.4" cy="144.6" r="0.5" fill="#acc4e6" opacity="0.75"/>
<circle cx="494.5" cy="144.8" r="0.5" fill="#acc4e6" opacity="0.75"/>
<circle cx="486.2" cy="151.8" r="0.5" fill="#a0bce2" opacity="0.75"/>
<circle cx="476.4" cy="151.9" r="0.5" fill="#acc4e6" opacity="0.75"/>
<circle cx="492.6" cy="147.1" r="0.5" fill="#c8d8ee" opacity="0.75"/>
<circle cx="480.8" cy="152.9" r="0.5" fill="#acc4e6" opacity="0.75"/>
<circle cx="487.7" cy="150.7" r="0.5" fill="#b8cde9" opacity="0.75"/>
<circle cx="477.1" cy="147.7" r="0.5" fill="#acc4e6" opacity="0.75"/>
<circle cx="490.5" cy="149.2" r="0.5" fill="#a0bce2" opacity="0.75"/>
<circle cx="479.7" cy="140.2" r="0.5" fill="#a0bce2" opacity="0.75"/>
<circle cx="480.9" cy="151.9" r="0.5" fill="#acc4e6" opacity="0.75"/>
<circle cx="470.1" cy="147.5" r="0.5" fill="#acc4e6" opacity="0.75"/>
<circle cx="483.1" cy="150.3" r="0.5" fill="#b8cde9" opacity="0.75"/>
<circle cx="478.7" cy="151.2" r="0.5" fill="#acc4e6" opacity="0.75"/>
<circle cx="490.6" cy="144.9" r="0.5" fill="#c8d8ee" opacity="0.75"/>
<circle cx="483.1" cy="150.9" r="0.5" fill="#c8d8ee" opacity="0.75"/>
<circle cx="480.4" cy="148.5" r="0.5" fill="#acc4e6" opacity="0.75"/>
<circle cx="482.8" cy="149.1" r="0.5" fill="#acc4e6" opacity="0.75"/>
<circle cx="467.1" cy="147.5" r="0.5" fill="#acc4e6" opacity="0.75"/>
<circle cx="487.9" cy="148.1" r="0.5" fill="#acc4e6" opacity="0.75"/>
<circle cx="484.3" cy="148.8" r="0.5" fill="#a0bce2" opacity="0.75"/>
<circle cx="473.0" cy="153.0" r="0.5" fill="#acc4e6" opacity="0.75"/>
<circle cx="490.3" cy="157.0" r="0.5" fill="#b8cde9" opacity="0.75"/>
<circle cx="492.4" cy="152.5" r="0.5" fill="#a0bce2" opacity="0.75"/>
<circle cx="491.1" cy="149.2" r="0.5" fill="#a0bce2" opacity="0.75"/>
<circle cx="484.3" cy="148.8" r="0.5" fill="#acc4e6" opacity="0.75"/>
<circle cx="461.2" cy="144.6" r="0.5" fill="#b8cde9" opacity="0.75"/>
<circle cx="472.2" cy="152.9" r="0.5" fill="#acc4e6" opacity="0.75"/>
<circle cx="483.9" cy="150.2" r="0.5" fill="#c8d8ee" opacity="0.75"/>
<circle cx="491.5" cy="155.1" r="0.5" fill="#b8cde9" opacity="0.75"/>
<circle cx="478.2" cy="152.6" r="0.5" fill="#acc4e6" opacity="0.75"/>
<circle cx="472.7" cy="148.2" r="0.5" fill="#c8d8ee" opacity="0.75"/>
<circle cx="477.0" cy="144.7" r="0.5" fill="#acc4e6" opacity="0.75"/>
<circle cx="484.4" cy="155.3" r="0.5" fill="#a0bce2" opacity="0.75"/>
<circle cx="484.2" cy="142.3" r="0.5" fill="#acc4e6" opacity="0.75"/>
<circle cx="477.1" cy="145.2" r="0.5" fill="#a0bce2" opacity="0.75"/>
<circle cx="475.9" cy="148.1" r="0.5" fill="#acc4e6" opacity="0.75"/>
<circle cx="483.7" cy="149.9" r="0.5" fill="#a0bce2" opacity="0.75"/>
<circle cx="494.8" cy="154.0" r="0.5" fill="#acc4e6" opacity="0.75"/>
<circle cx="489.6" cy="154.3" r="0.5" fill="#a0bce2" opacity="0.75"/>
<circle cx="483.1" cy="147.7" r="0.5" fill="#b8cde9" opacity="0.75"/>
<circle cx="480.1" cy="148.0" r="0.5" fill="#c8d8ee" opacity="0.75"/>
<circle cx="478.2" cy="148.6" r="0.5" fill="#acc4e6" opacity="0.75"/>
<circle cx="481.7" cy="140.5" r="0.5" fill="#c8d8ee" opacity="0.75"/>
<circle cx="475.7" cy="148.8" r="0.5" fill="#c8d8ee" opacity="0.75"/>
<circle cx="486.5" cy="149.0" r="0.55" fill="#6b9ad6" opacity="1.0"/>
<circle cx="492.3" cy="144.2" r="0.55" fill="#5d92cf" opacity="1.0"/>
<circle cx="490.6" cy="147.8" r="0.55" fill="#7aa4da" opacity="1.0"/>
<circle cx="497.9" cy="152.7" r="0.55" fill="#7aa4da" opacity="1.0"/>
<circle cx="498.6" cy="139.5" r="0.55" fill="#8eb2e0" opacity="1.0"/>
<circle cx="498.1" cy="150.4" r="0.55" fill="#5d92cf" opacity="1.0"/>
<circle cx="497.5" cy="145.9" r="0.55" fill="#6b9ad6" opacity="1.0"/>
<circle cx="494.7" cy="147.8" r="0.55" fill="#5d92cf" opacity="1.0"/>
<circle cx="493.4" cy="151.4" r="0.55" fill="#8eb2e0" opacity="1.0"/>
<circle cx="495.5" cy="141.7" r="0.55" fill="#8eb2e0" opacity="1.0"/>
<circle cx="497.9" cy="144.8" r="0.55" fill="#6b9ad6" opacity="1.0"/>
<circle cx="485.1" cy="147.1" r="0.55" fill="#8eb2e0" opacity="1.0"/>
<circle cx="496.1" cy="147.3" r="0.55" fill="#8eb2e0" opacity="1.0"/>
<circle cx="492.6" cy="151.0" r="0.55" fill="#5d92cf" opacity="1.0"/>
<circle cx="496.4" cy="145.7" r="0.55" fill="#8eb2e0" opacity="1.0"/>
<circle cx="493.0" cy="142.0" r="0.55" fill="#5d92cf" opacity="1.0"/>
<circle cx="494.0" cy="148.9" r="0.55" fill="#6b9ad6" opacity="1.0"/>
<circle cx="498.7" cy="142.8" r="0.55" fill="#7aa4da" opacity="1.0"/>
<circle cx="497.0" cy="139.7" r="0.55" fill="#6b9ad6" opacity="1.0"/>
<circle cx="491.9" cy="148.0" r="0.55" fill="#8eb2e0" opacity="1.0"/>
<circle cx="492.7" cy="140.1" r="0.55" fill="#6b9ad6" opacity="1.0"/>
<circle cx="494.5" cy="147.5" r="0.55" fill="#8eb2e0" opacity="1.0"/>
<circle cx="496.4" cy="153.7" r="0.55" fill="#7aa4da" opacity="1.0"/>
<circle cx="495.0" cy="142.9" r="0.55" fill="#5d92cf" opacity="1.0"/>
<circle cx="496.5" cy="150.1" r="0.55" fill="#5d92cf" opacity="1.0"/>
<circle cx="503.2" cy="141.3" r="0.55" fill="#7aa4da" opacity="1.0"/>
<circle cx="492.1" cy="145.7" r="0.55" fill="#7aa4da" opacity="1.0"/>
<circle cx="498.1" cy="149.5" r="0.55" fill="#6b9ad6" opacity="1.0"/>
<circle cx="489.4" cy="143.6" r="0.55" fill="#7aa4da" opacity="1.0"/>
<circle cx="501.0" cy="151.6" r="0.55" fill="#7aa4da" opacity="1.0"/>
<circle cx="495.7" cy="146.3" r="0.55" fill="#5d92cf" opacity="1.0"/>
<circle cx="498.7" cy="147.5" r="0.55" fill="#7aa4da" opacity="1.0"/>
<circle cx="495.3" cy="153.6" r="0.55" fill="#6b9ad6" opacity="1.0"/>
<circle cx="491.6" cy="143.0" r="0.55" fill="#7aa4da" opacity="1.0"/>
<circle cx="487.3" cy="144.6" r="0.55" fill="#7aa4da" opacity="1.0"/>
<circle cx="492.0" cy="149.5" r="0.55" fill="#6b9ad6" opacity="1.0"/>
<circle cx="494.3" cy="144.2" r="0.55" fill="#6b9ad6" opacity="1.0"/>
<circle cx="496.9" cy="148.4" r="0.55" fill="#7aa4da" opacity="1.0"/>
<circle cx="494.1" cy="148.8" r="0.55" fill="#8eb2e0" opacity="1.0"/>
<circle cx="492.9" cy="151.1" r="0.55" fill="#7aa4da" opacity="1.0"/>
<circle cx="492.2" cy="142.7" r="0.55" fill="#8eb2e0" opacity="1.0"/>
<circle cx="492.3" cy="135.8" r="0.55" fill="#8eb2e0" opacity="1.0"/>
<circle cx="490.9" cy="149.1" r="0.55" fill="#5d92cf" opacity="1.0"/>
<circle cx="492.1" cy="148.8" r="0.55" fill="#5d92cf" opacity="1.0"/>
<circle cx="500.0" cy="143.5" r="0.55" fill="#7aa4da" opacity="1.0"/>
<circle cx="493.3" cy="152.4" r="0.55" fill="#8eb2e0" opacity="1.0"/>
<circle cx="493.2" cy="140.8" r="0.55" fill="#6b9ad6" opacity="1.0"/>
<circle cx="497.6" cy="142.6" r="0.55" fill="#7aa4da" opacity="1.0"/>
<circle cx="498.8" cy="142.2" r="0.55" fill="#7aa4da" opacity="1.0"/>
<circle cx="489.5" cy="149.6" r="0.55" fill="#5d92cf" opacity="1.0"/>
<circle cx="491.1" cy="145.8" r="0.55" fill="#7aa4da" opacity="1.0"/>
<circle cx="488.5" cy="147.4" r="0.55" fill="#5d92cf" opacity="1.0"/>
<circle cx="489.1" cy="146.1" r="0.55" fill="#5d92cf" opacity="1.0"/>
<circle cx="493.3" cy="153.4" r="0.55" fill="#5d92cf" opacity="1.0"/>
<circle cx="492.9" cy="148.5" r="0.55" fill="#8eb2e0" opacity="1.0"/>
<circle cx="490.6" cy="142.6" r="0.55" fill="#8eb2e0" opacity="1.0"/>
<circle cx="499.3" cy="151.9" r="0.55" fill="#6b9ad6" opacity="1.0"/>
<circle cx="500.3" cy="145.4" r="0.55" fill="#8eb2e0" opacity="1.0"/>
<circle cx="498.1" cy="145.7" r="0.55" fill="#8eb2e0" opacity="1.0"/>
<circle cx="489.9" cy="146.0" r="0.55" fill="#6b9ad6" opacity="1.0"/>
<circle cx="495.4" cy="147.8" r="0.55" fill="#8eb2e0" opacity="1.0"/>
<circle cx="489.6" cy="145.8" r="0.55" fill="#8eb2e0" opacity="1.0"/>
<circle cx="493.7" cy="150.1" r="0.55" fill="#5d92cf" opacity="1.0"/>
<circle cx="496.1" cy="157.3" r="0.55" fill="#7aa4da" opacity="1.0"/>
<circle cx="491.7" cy="150.7" r="0.55" fill="#5d92cf" opacity="1.0"/>
<circle cx="495.2" cy="149.5" r="0.55" fill="#8eb2e0" opacity="1.0"/>
<circle cx="490.9" cy="149.8" r="0.55" fill="#8eb2e0" opacity="1.0"/>
<circle cx="492.4" cy="147.7" r="0.55" fill="#5d92cf" opacity="1.0"/>
<circle cx="492.1" cy="151.6" r="0.55" fill="#7aa4da" opacity="1.0"/>
<circle cx="489.7" cy="148.2" r="0.55" fill="#6b9ad6" opacity="1.0"/>
<circle cx="494.6" cy="145.2" r="0.55" fill="#6b9ad6" opacity="1.0"/>
<circle cx="490.2" cy="150.6" r="0.55" fill="#6b9ad6" opacity="1.0"/>
<circle cx="491.5" cy="143.3" r="0.55" fill="#5d92cf" opacity="1.0"/>
<circle cx="492.9" cy="152.7" r="0.55" fill="#7aa4da" opacity="1.0"/>
<circle cx="493.0" cy="146.7" r="0.55" fill="#6b9ad6" opacity="1.0"/>
<circle cx="491.4" cy="152.0" r="0.55" fill="#8eb2e0" opacity="1.0"/>
<circle cx="493.2" cy="150.7" r="0.55" fill="#5d92cf" opacity="1.0"/>
<circle cx="497.8" cy="151.6" r="0.55" fill="#7aa4da" opacity="1.0"/>
<circle cx="494.3" cy="151.9" r="0.55" fill="#8eb2e0" opacity="1.0"/>
<circle cx="491.9" cy="144.3" r="0.55" fill="#7aa4da" opacity="1.0"/>
<circle cx="494.1" cy="143.4" r="0.55" fill="#7aa4da" opacity="1.0"/>
<circle cx="494.0" cy="144.0" r="0.55" fill="#5d92cf" opacity="1.0"/>
<circle cx="488.9" cy="148.9" r="0.55" fill="#8eb2e0" opacity="1.0"/>
<circle cx="491.1" cy="150.3" r="0.55" fill="#6b9ad6" opacity="1.0"/>
<circle cx="496.4" cy="146.7" r="0.55" fill="#8eb2e0" opacity="1.0"/>
<circle cx="496.1" cy="149.0" r="0.55" fill="#7aa4da" opacity="1.0"/>
<circle cx="497.1" cy="150.4" r="0.55" fill="#5d92cf" opacity="1.0"/>
<circle cx="489.9" cy="145.8" r="0.55" fill="#7aa4da" opacity="1.0"/>
<circle cx="497.1" cy="151.6" r="0.55" fill="#5d92cf" opacity="1.0"/>
<circle cx="493.6" cy="143.1" r="0.55" fill="#5d92cf" opacity="1.0"/>
<circle cx="494.3" cy="149.0" r="0.55" fill="#5d92cf" opacity="1.0"/>
<circle cx="489.5" cy="146.9" r="0.55" fill="#7aa4da" opacity="1.0"/>
<circle cx="492.3" cy="141.0" r="0.55" fill="#5d92cf" opacity="1.0"/>
<circle cx="486.3" cy="143.4" r="0.55" fill="#8eb2e0" opacity="1.0"/>
<circle cx="488.5" cy="143.9" r="0.55" fill="#5d92cf" opacity="1.0"/>
<circle cx="495.5" cy="149.9" r="0.55" fill="#7aa4da" opacity="1.0"/>
<circle cx="493.5" cy="147.1" r="0.55" fill="#5d92cf" opacity="1.0"/>
<circle cx="498.6" cy="152.2" r="0.55" fill="#5d92cf" opacity="1.0"/>
<circle cx="498.9" cy="150.7" r="0.55" fill="#8eb2e0" opacity="1.0"/>
<circle cx="492.7" cy="147.4" r="0.55" fill="#5d92cf" opacity="1.0"/>
<circle cx="495.5" cy="145.8" r="0.55" fill="#5d92cf" opacity="1.0"/>
<circle cx="498.6" cy="140.5" r="0.55" fill="#6b9ad6" opacity="1.0"/>
<circle cx="492.5" cy="149.7" r="0.55" fill="#7aa4da" opacity="1.0"/>
<circle cx="494.9" cy="152.6" r="0.55" fill="#8eb2e0" opacity="1.0"/>
<circle cx="496.7" cy="150.2" r="0.55" fill="#8eb2e0" opacity="1.0"/>
<circle cx="490.2" cy="145.0" r="0.55" fill="#5d92cf" opacity="1.0"/>
<circle cx="493.3" cy="144.0" r="0.55" fill="#6b9ad6" opacity="1.0"/>
<circle cx="499.6" cy="142.9" r="0.55" fill="#8eb2e0" opacity="1.0"/>
<circle cx="492.9" cy="149.4" r="0.55" fill="#6b9ad6" opacity="1.0"/>
<circle cx="490.7" cy="145.9" r="0.55" fill="#5d92cf" opacity="1.0"/>
<circle cx="491.8" cy="141.5" r="0.55" fill="#6b9ad6" opacity="1.0"/>
<circle cx="488.4" cy="152.1" r="0.55" fill="#6b9ad6" opacity="1.0"/>
<circle cx="488.0" cy="148.1" r="0.55" fill="#7aa4da" opacity="1.0"/>
<circle cx="494.0" cy="147.0" r="0.55" fill="#7aa4da" opacity="1.0"/>
<circle cx="489.4" cy="149.6" r="0.55" fill="#8eb2e0" opacity="1.0"/>
<circle cx="496.4" cy="148.7" r="0.55" fill="#5d92cf" opacity="1.0"/>
<circle cx="491.2" cy="153.5" r="0.55" fill="#5d92cf" opacity="1.0"/>
<circle cx="488.3" cy="150.2" r="0.55" fill="#6b9ad6" opacity="1.0"/>
<circle cx="495.1" cy="146.7" r="0.55" fill="#5d92cf" opacity="1.0"/>
<circle cx="495.5" cy="146.1" r="0.55" fill="#6b9ad6" opacity="1.0"/>
<circle cx="493.6" cy="145.9" r="0.55" fill="#4e86c8" opacity="1.0"/>
<circle cx="493.9" cy="151.7" r="0.55" fill="#5d92cf" opacity="1.0"/>
<circle cx="490.1" cy="145.9" r="0.55" fill="#4e86c8" opacity="1.0"/>
<circle cx="494.3" cy="143.9" r="0.55" fill="#5d92cf" opacity="1.0"/>
<circle cx="494.8" cy="151.2" r="0.55" fill="#5d92cf" opacity="1.0"/>
<circle cx="490.9" cy="145.8" r="0.55" fill="#5d92cf" opacity="1.0"/>
<circle cx="495.2" cy="141.1" r="0.55" fill="#4e86c8" opacity="1.0"/>
<circle cx="492.7" cy="151.0" r="0.55" fill="#4e86c8" opacity="1.0"/>
<circle cx="492.8" cy="145.2" r="0.55" fill="#5d92cf" opacity="1.0"/>
<circle cx="494.0" cy="146.1" r="0.55" fill="#5d92cf" opacity="1.0"/>
<circle cx="494.2" cy="145.0" r="0.55" fill="#5d92cf" opacity="1.0"/>
<circle cx="496.1" cy="144.0" r="0.55" fill="#5d92cf" opacity="1.0"/>
<circle cx="492.1" cy="148.1" r="0.55" fill="#5d92cf" opacity="1.0"/>
<circle cx="494.3" cy="150.4" r="0.55" fill="#5d92cf" opacity="1.0"/>
<circle cx="492.5" cy="146.8" r="0.55" fill="#4e86c8" opacity="1.0"/>
<circle cx="493.6" cy="148.3" r="0.55" fill="#5d92cf" opacity="1.0"/>
<circle cx="493.1" cy="147.8" r="0.55" fill="#5d92cf" opacity="1.0"/>
<circle cx="490.0" cy="147.5" r="0.55" fill="#5d92cf" opacity="1.0"/>
<circle cx="494.7" cy="147.4" r="0.55" fill="#5d92cf" opacity="1.0"/>
<circle cx="497.7" cy="147.3" r="0.55" fill="#5d92cf" opacity="1.0"/>
<circle cx="492.1" cy="148.5" r="0.55" fill="#4e86c8" opacity="1.0"/>
<circle cx="497.0" cy="143.8" r="0.55" fill="#5d92cf" opacity="1.0"/>
<circle cx="489.0" cy="146.2" r="0.55" fill="#5d92cf" opacity="1.0"/>
<circle cx="493.2" cy="149.2" r="0.55" fill="#5d92cf" opacity="1.0"/>
<circle cx="491.7" cy="145.3" r="0.55" fill="#5d92cf" opacity="1.0"/>
<circle cx="494.9" cy="146.4" r="0.55" fill="#5d92cf" opacity="1.0"/>
<circle cx="492.8" cy="145.8" r="0.55" fill="#4e86c8" opacity="1.0"/>
<circle cx="491.2" cy="148.4" r="0.55" fill="#4e86c8" opacity="1.0"/>
<circle cx="493.2" cy="145.0" r="0.55" fill="#4e86c8" opacity="1.0"/>
<circle cx="494.9" cy="143.2" r="0.55" fill="#4e86c8" opacity="1.0"/>
<circle cx="494.7" cy="148.6" r="0.55" fill="#5d92cf" opacity="1.0"/>
<circle cx="491.5" cy="144.7" r="0.55" fill="#5d92cf" opacity="1.0"/>
<circle cx="495.3" cy="147.8" r="0.55" fill="#4e86c8" opacity="1.0"/>
<circle cx="492.6" cy="145.4" r="0.55" fill="#4e86c8" opacity="1.0"/>
<circle cx="495.5" cy="148.8" r="0.55" fill="#5d92cf" opacity="1.0"/>
<circle cx="490.6" cy="148.8" r="0.55" fill="#5d92cf" opacity="1.0"/>
<circle cx="490.4" cy="150.1" r="0.55" fill="#4e86c8" opacity="1.0"/>
<circle cx="492.1" cy="148.1" r="0.55" fill="#5d92cf" opacity="1.0"/>
<circle cx="493.9" cy="145.8" r="0.55" fill="#4e86c8" opacity="1.0"/>
<circle cx="492.1" cy="149.3" r="0.55" fill="#4e86c8" opacity="1.0"/>
</g></g>
<rect x="457.5" y="105.6" width="56.90" height="54.90" fill="none" stroke="#707070" stroke-width="0.9"/>
<line x1="488.40" y1="105.60" x2="488.40" y2="160.50" stroke="#505050" stroke-width="0.9"/>
<line x1="457.50" y1="138.40" x2="514.40" y2="138.40" stroke="#505050" stroke-width="0.9"/>
<text x="457.91" y="111.63" font-size="6.76" fill="#111" stroke="#111" stroke-width="0.22" textLength="9.91" lengthAdjust="spacingAndGlyphs">0.1</text>
<text x="503.91" y="111.63" font-size="6.76" fill="#111" stroke="#111" stroke-width="0.22" textLength="10.01" lengthAdjust="spacingAndGlyphs">0.1</text>
<text x="505.44" y="158.43" font-size="7.32" fill="#111" stroke="#111" stroke-width="0.22" textLength="8.03" lengthAdjust="spacingAndGlyphs">70</text>
<text x="375.93" y="39.74" font-size="6.20" fill="#222" stroke="#222" stroke-width="0.28" textLength="7.01" lengthAdjust="spacingAndGlyphs">10</text>
<text x="383.02" y="36.00" font-size="4.06" fill="#222" stroke="#222" stroke-width="0.2" textLength="2.09" lengthAdjust="spacingAndGlyphs">4</text>
<text x="375.93" y="66.79" font-size="6.20" fill="#222" stroke="#222" stroke-width="0.28" textLength="7.01" lengthAdjust="spacingAndGlyphs">10</text>
<text x="382.89" y="63.05" font-size="4.00" fill="#222" stroke="#222" stroke-width="0.2" textLength="2.32" lengthAdjust="spacingAndGlyphs">2</text>
<text x="375.93" y="93.84" font-size="6.20" fill="#222" stroke="#222" stroke-width="0.28" textLength="7.01" lengthAdjust="spacingAndGlyphs">10</text>
<text x="382.94" y="90.06" font-size="3.94" fill="#222" stroke="#222" stroke-width="0.2" textLength="2.20" lengthAdjust="spacingAndGlyphs">0</text>
<line x1="385.80" y1="37.30" x2="387.10" y2="37.30" stroke="#707070" stroke-width="0.8"/>
<line x1="385.80" y1="50.83" x2="387.10" y2="50.83" stroke="#707070" stroke-width="0.8"/>
<line x1="385.80" y1="64.35" x2="387.10" y2="64.35" stroke="#707070" stroke-width="0.8"/>
<line x1="385.80" y1="77.88" x2="387.10" y2="77.88" stroke="#707070" stroke-width="0.8"/>
<line x1="385.80" y1="91.40" x2="387.10" y2="91.40" stroke="#707070" stroke-width="0.8"/>
<text x="376.73" y="107.94" font-size="6.20" fill="#222" stroke="#222" stroke-width="0.28" textLength="7.01" lengthAdjust="spacingAndGlyphs">10</text>
<text x="383.82" y="104.20" font-size="4.06" fill="#222" stroke="#222" stroke-width="0.2" textLength="2.09" lengthAdjust="spacingAndGlyphs">4</text>
<text x="376.73" y="135.39" font-size="6.20" fill="#222" stroke="#222" stroke-width="0.28" textLength="7.01" lengthAdjust="spacingAndGlyphs">10</text>
<text x="383.69" y="131.65" font-size="4.00" fill="#222" stroke="#222" stroke-width="0.2" textLength="2.32" lengthAdjust="spacingAndGlyphs">2</text>
<text x="376.73" y="162.84" font-size="6.20" fill="#222" stroke="#222" stroke-width="0.28" textLength="7.01" lengthAdjust="spacingAndGlyphs">10</text>
<text x="383.74" y="159.06" font-size="3.94" fill="#222" stroke="#222" stroke-width="0.2" textLength="2.20" lengthAdjust="spacingAndGlyphs">0</text>
<line x1="385.80" y1="105.50" x2="387.10" y2="105.50" stroke="#707070" stroke-width="0.8"/>
<line x1="385.80" y1="119.22" x2="387.10" y2="119.22" stroke="#707070" stroke-width="0.8"/>
<line x1="385.80" y1="132.95" x2="387.10" y2="132.95" stroke="#707070" stroke-width="0.8"/>
<line x1="385.80" y1="146.68" x2="387.10" y2="146.68" stroke="#707070" stroke-width="0.8"/>
<line x1="385.80" y1="160.40" x2="387.10" y2="160.40" stroke="#707070" stroke-width="0.8"/>
<text x="383.15" y="167.54" font-size="5.63" fill="#222" stroke="#222" stroke-width="0.28" textLength="6.67" lengthAdjust="spacingAndGlyphs">10</text>
<text x="389.73" y="164.76" font-size="3.94" fill="#222" stroke="#222" stroke-width="0.2" textLength="2.32" lengthAdjust="spacingAndGlyphs">0</text>
<text x="411.60" y="167.54" font-size="5.63" fill="#222" stroke="#222" stroke-width="0.28" textLength="6.67" lengthAdjust="spacingAndGlyphs">10</text>
<text x="418.13" y="164.80" font-size="4.00" fill="#222" stroke="#222" stroke-width="0.2" textLength="2.44" lengthAdjust="spacingAndGlyphs">2</text>
<text x="440.05" y="167.54" font-size="5.63" fill="#222" stroke="#222" stroke-width="0.28" textLength="6.67" lengthAdjust="spacingAndGlyphs">10</text>
<text x="446.72" y="164.80" font-size="4.06" fill="#222" stroke="#222" stroke-width="0.2" textLength="2.20" lengthAdjust="spacingAndGlyphs">4</text>
<line x1="387.10" y1="160.40" x2="387.10" y2="161.70" stroke="#707070" stroke-width="0.8"/>
<line x1="401.33" y1="160.40" x2="401.33" y2="161.70" stroke="#707070" stroke-width="0.8"/>
<line x1="415.55" y1="160.40" x2="415.55" y2="161.70" stroke="#707070" stroke-width="0.8"/>
<line x1="429.77" y1="160.40" x2="429.77" y2="161.70" stroke="#707070" stroke-width="0.8"/>
<line x1="444.00" y1="160.40" x2="444.00" y2="161.70" stroke="#707070" stroke-width="0.8"/>
<text x="453.55" y="167.54" font-size="5.63" fill="#222" stroke="#222" stroke-width="0.28" textLength="6.67" lengthAdjust="spacingAndGlyphs">10</text>
<text x="460.13" y="164.76" font-size="3.94" fill="#222" stroke="#222" stroke-width="0.2" textLength="2.32" lengthAdjust="spacingAndGlyphs">0</text>
<text x="482.00" y="167.54" font-size="5.63" fill="#222" stroke="#222" stroke-width="0.28" textLength="6.67" lengthAdjust="spacingAndGlyphs">10</text>
<text x="488.53" y="164.80" font-size="4.00" fill="#222" stroke="#222" stroke-width="0.2" textLength="2.44" lengthAdjust="spacingAndGlyphs">2</text>
<text x="510.45" y="167.54" font-size="5.63" fill="#222" stroke="#222" stroke-width="0.28" textLength="6.67" lengthAdjust="spacingAndGlyphs">10</text>
<text x="517.12" y="164.80" font-size="4.06" fill="#222" stroke="#222" stroke-width="0.2" textLength="2.20" lengthAdjust="spacingAndGlyphs">4</text>
<line x1="457.50" y1="160.50" x2="457.50" y2="161.80" stroke="#707070" stroke-width="0.8"/>
<line x1="471.73" y1="160.50" x2="471.73" y2="161.80" stroke="#707070" stroke-width="0.8"/>
<line x1="485.95" y1="160.50" x2="485.95" y2="161.80" stroke="#707070" stroke-width="0.8"/>
<line x1="500.17" y1="160.50" x2="500.17" y2="161.80" stroke="#707070" stroke-width="0.8"/>
<line x1="514.40" y1="160.50" x2="514.40" y2="161.80" stroke="#707070" stroke-width="0.8"/>
<line x1="375.30" y1="172.70" x2="375.30" y2="140.00" stroke="#000" stroke-width="1.5"/>
<line x1="374.55" y1="171.95" x2="412.00" y2="171.95" stroke="#000" stroke-width="1.5"/>
<path d="M375.3,130.6 L378.9,143.9 L375.3,141.2 L371.7,143.9 Z" fill="#000"/>
<path d="M421.5,171.95 L408.0,168.3 L410.6,171.95 L408.0,175.6 Z" fill="#000"/>
<text transform="translate(368.09,168.56) rotate(-90)" x="0" y="0" font-size="11.29" fill="#000" stroke="#000" stroke-width="0.35" textLength="24.02" lengthAdjust="spacingAndGlyphs">FasL</text>
<text x="381.16" y="184.29" font-size="11.29" fill="#000" stroke="#000" stroke-width="0.35" textLength="21.73" lengthAdjust="spacingAndGlyphs">Fas</text>
<text x="59.63" y="212.70" font-size="15.51" fill="#000" font-weight="bold" stroke="#000" stroke-width="0.18" textLength="10.80" lengthAdjust="spacingAndGlyphs">D</text>
<line x1="83.90" y1="228.50" x2="83.90" y2="310.00" stroke="#6a6a6a" stroke-width="0.9"/>
<line x1="83.90" y1="310.00" x2="181.20" y2="310.00" stroke="#6a6a6a" stroke-width="0.9"/>
<line x1="82.10" y1="310.00" x2="83.90" y2="310.00" stroke="#6a6a6a" stroke-width="0.9"/>
<text x="75.85" y="311.70" font-size="4.93" fill="#333" stroke="#333" stroke-width="0.3" textLength="3.48" lengthAdjust="spacingAndGlyphs">0</text>
<line x1="82.10" y1="293.70" x2="83.90" y2="293.70" stroke="#6a6a6a" stroke-width="0.9"/>
<text x="72.81" y="295.40" font-size="4.93" fill="#333" stroke="#333" stroke-width="0.3" textLength="6.51" lengthAdjust="spacingAndGlyphs">20</text>
<line x1="82.10" y1="277.40" x2="83.90" y2="277.40" stroke="#6a6a6a" stroke-width="0.9"/>
<text x="72.99" y="279.10" font-size="4.93" fill="#333" stroke="#333" stroke-width="0.3" textLength="6.33" lengthAdjust="spacingAndGlyphs">40</text>
<line x1="82.10" y1="261.10" x2="83.90" y2="261.10" stroke="#6a6a6a" stroke-width="0.9"/>
<text x="72.81" y="262.80" font-size="4.93" fill="#333" stroke="#333" stroke-width="0.3" textLength="6.51" lengthAdjust="spacingAndGlyphs">60</text>
<line x1="82.10" y1="244.80" x2="83.90" y2="244.80" stroke="#6a6a6a" stroke-width="0.9"/>
<text x="72.84" y="246.50" font-size="4.93" fill="#333" stroke="#333" stroke-width="0.3" textLength="6.48" lengthAdjust="spacingAndGlyphs">80</text>
<line x1="82.10" y1="228.50" x2="83.90" y2="228.50" stroke="#6a6a6a" stroke-width="0.9"/>
<text x="69.67" y="230.20" font-size="4.93" fill="#333" stroke="#333" stroke-width="0.3" textLength="9.66" lengthAdjust="spacingAndGlyphs">100</text>
<line x1="83.90" y1="310.00" x2="83.90" y2="311.80" stroke="#6a6a6a" stroke-width="0.9"/>
<line x1="132.50" y1="310.00" x2="132.50" y2="311.80" stroke="#6a6a6a" stroke-width="0.9"/>
<line x1="181.20" y1="310.00" x2="181.20" y2="311.80" stroke="#6a6a6a" stroke-width="0.9"/>
<rect x="90.80" y="302.01" width="8.72" height="7.99" fill="#8c0a0a" stroke="#3a0000" stroke-width="0.5"/>
<rect x="99.52" y="299.81" width="8.72" height="10.19" fill="#fa1010" stroke="#900000" stroke-width="0.5"/>
<rect x="108.24" y="278.30" width="8.72" height="31.70" fill="#2e6ff5" stroke="#1a40a0" stroke-width="0.5"/>
<rect x="116.96" y="280.50" width="8.72" height="29.50" fill="#0a18f5" stroke="#00008c" stroke-width="0.5"/>
<rect x="139.30" y="257.51" width="8.72" height="52.49" fill="#8c0a0a" stroke="#3a0000" stroke-width="0.5"/>
<rect x="148.02" y="254.01" width="8.72" height="55.99" fill="#fa1010" stroke="#900000" stroke-width="0.5"/>
<rect x="156.74" y="234.69" width="8.72" height="75.31" fill="#2e6ff5" stroke="#1a40a0" stroke-width="0.5"/>
<rect x="165.46" y="235.43" width="8.72" height="74.57" fill="#0a18f5" stroke="#00008c" stroke-width="0.5"/>
<text x="85.24" y="238.88" font-size="10.56" fill="#111" stroke="#111" stroke-width="0.22" textLength="25.57" lengthAdjust="spacingAndGlyphs">Ery.A</text>
<text transform="translate(65.47,329.64) rotate(-90)" x="0" y="0" font-size="10.16" fill="#1a1a1a" font-weight="bold" stroke="#1a1a1a" stroke-width="0.18" textLength="86.77" lengthAdjust="spacingAndGlyphs">Annexin V- binding</text>
<text transform="translate(65.47,240.69) rotate(-90)" x="0" y="0" font-size="10.16" fill="#1a1a1a" font-weight="bold" stroke="#1a1a1a" stroke-width="0.18" textLength="15.39" lengthAdjust="spacingAndGlyphs">(%)</text>
<rect x="187.30" y="237.05" width="4.70" height="4.70" fill="#8c0a0a" stroke="#3a0000" stroke-width="0.4"/>
<text x="194.23" y="241.73" font-size="7.43" fill="#1a1a1a" stroke="#1a1a1a" stroke-width="0.22" textLength="56.86" lengthAdjust="spacingAndGlyphs">Bone Marrow 1</text>
<rect x="187.30" y="251.48" width="4.70" height="4.70" fill="#fa1010" stroke="#900000" stroke-width="0.4"/>
<text x="194.22" y="256.13" font-size="7.32" fill="#1a1a1a" stroke="#1a1a1a" stroke-width="0.22" textLength="57.61" lengthAdjust="spacingAndGlyphs">Bone Marrow 2</text>
<rect x="187.30" y="265.91" width="4.70" height="4.70" fill="#2e6ff5" stroke="#1a40a0" stroke-width="0.4"/>
<text x="194.12" y="270.85" font-size="7.38" fill="#1a1a1a" stroke="#1a1a1a" stroke-width="0.22" textLength="33.08" lengthAdjust="spacingAndGlyphs">Spleen 1</text>
<rect x="187.30" y="280.34" width="4.70" height="4.70" fill="#0a18f5" stroke="#00008c" stroke-width="0.4"/>
<text x="194.11" y="285.03" font-size="7.49" fill="#1a1a1a" stroke="#1a1a1a" stroke-width="0.22" textLength="33.94" lengthAdjust="spacingAndGlyphs">Spleen 2</text>
<text x="99.43" y="322.41" font-size="8.71" fill="#111" font-weight="bold" stroke="#111" stroke-width="0.18" textLength="17.99" lengthAdjust="spacingAndGlyphs">Fas-</text>
<text x="90.53" y="331.61" font-size="8.98" fill="#111" font-weight="bold" stroke="#111" stroke-width="0.18" textLength="35.70" lengthAdjust="spacingAndGlyphs">negative</text>
<text x="98.55" y="339.82" font-size="7.62" fill="#111" font-weight="bold" stroke="#111" stroke-width="0.18" textLength="19.70" lengthAdjust="spacingAndGlyphs">cells</text>
<text x="147.73" y="322.41" font-size="8.71" fill="#111" font-weight="bold" stroke="#111" stroke-width="0.18" textLength="17.99" lengthAdjust="spacingAndGlyphs">Fas-</text>
<text x="140.24" y="331.61" font-size="8.98" fill="#111" font-weight="bold" stroke="#111" stroke-width="0.18" textLength="32.65" lengthAdjust="spacingAndGlyphs">positive</text>
<text x="146.85" y="339.82" font-size="7.62" fill="#111" font-weight="bold" stroke="#111" stroke-width="0.18" textLength="19.70" lengthAdjust="spacingAndGlyphs">cells</text>
<text x="268.83" y="212.70" font-size="15.22" fill="#000" font-weight="bold" stroke="#000" stroke-width="0.18" textLength="9.92" lengthAdjust="spacingAndGlyphs">E</text>
<line x1="300.30" y1="227.60" x2="300.30" y2="310.20" stroke="#6a6a6a" stroke-width="0.9"/>
<line x1="300.30" y1="310.20" x2="405.58" y2="310.20" stroke="#6a6a6a" stroke-width="0.9"/>
<line x1="298.10" y1="310.20" x2="300.30" y2="310.20" stroke="#6a6a6a" stroke-width="0.9"/>
<text x="289.65" y="312.58" font-size="6.90" fill="#222" stroke="#222" stroke-width="0.22" textLength="4.44" lengthAdjust="spacingAndGlyphs">0</text>
<line x1="298.10" y1="293.68" x2="300.30" y2="293.68" stroke="#6a6a6a" stroke-width="0.9"/>
<text x="285.77" y="296.06" font-size="6.90" fill="#222" stroke="#222" stroke-width="0.22" textLength="8.31" lengthAdjust="spacingAndGlyphs">20</text>
<line x1="298.10" y1="277.16" x2="300.30" y2="277.16" stroke="#6a6a6a" stroke-width="0.9"/>
<text x="285.99" y="279.54" font-size="6.90" fill="#222" stroke="#222" stroke-width="0.22" textLength="8.08" lengthAdjust="spacingAndGlyphs">40</text>
<line x1="298.10" y1="260.64" x2="300.30" y2="260.64" stroke="#6a6a6a" stroke-width="0.9"/>
<text x="285.77" y="263.02" font-size="6.90" fill="#222" stroke="#222" stroke-width="0.22" textLength="8.31" lengthAdjust="spacingAndGlyphs">60</text>
<line x1="298.10" y1="244.12" x2="300.30" y2="244.12" stroke="#6a6a6a" stroke-width="0.9"/>
<text x="285.81" y="246.50" font-size="6.90" fill="#222" stroke="#222" stroke-width="0.22" textLength="8.27" lengthAdjust="spacingAndGlyphs">80</text>
<line x1="298.10" y1="227.60" x2="300.30" y2="227.60" stroke="#6a6a6a" stroke-width="0.9"/>
<text x="281.76" y="229.98" font-size="6.90" fill="#222" stroke="#222" stroke-width="0.22" textLength="12.33" lengthAdjust="spacingAndGlyphs">100</text>
<line x1="300.30" y1="310.20" x2="300.30" y2="311.80" stroke="#6a6a6a" stroke-width="0.9"/>
<text x="298.78" y="320.55" font-size="4.79" fill="#222" stroke="#222" stroke-width="0.3" textLength="3.01" lengthAdjust="spacingAndGlyphs">0</text>
<line x1="326.62" y1="310.20" x2="326.62" y2="311.80" stroke="#6a6a6a" stroke-width="0.9"/>
<text x="325.03" y="320.60" font-size="4.86" fill="#222" stroke="#222" stroke-width="0.3" textLength="3.18" lengthAdjust="spacingAndGlyphs">2</text>
<line x1="352.94" y1="310.20" x2="352.94" y2="311.80" stroke="#6a6a6a" stroke-width="0.9"/>
<text x="351.54" y="320.60" font-size="4.93" fill="#222" stroke="#222" stroke-width="0.3" textLength="2.86" lengthAdjust="spacingAndGlyphs">4</text>
<line x1="379.26" y1="310.20" x2="379.26" y2="311.80" stroke="#6a6a6a" stroke-width="0.9"/>
<text x="377.68" y="320.55" font-size="4.79" fill="#222" stroke="#222" stroke-width="0.3" textLength="3.11" lengthAdjust="spacingAndGlyphs">6</text>
<line x1="405.58" y1="310.20" x2="405.58" y2="311.80" stroke="#6a6a6a" stroke-width="0.9"/>
<text x="404.03" y="320.55" font-size="4.79" fill="#222" stroke="#222" stroke-width="0.3" textLength="3.08" lengthAdjust="spacingAndGlyphs">8</text>
<text x="301.85" y="236.95" font-size="10.22" fill="#111" stroke="#111" stroke-width="0.22" textLength="25.26" lengthAdjust="spacingAndGlyphs">Ery.A</text>
<text transform="translate(277.89,322.85) rotate(-90)" x="0" y="0" font-size="10.05" fill="#1a1a1a" font-weight="bold" stroke="#1a1a1a" stroke-width="0.18" textLength="88.03" lengthAdjust="spacingAndGlyphs">Annexin V-binding</text>
<text transform="translate(277.89,233.98) rotate(-90)" x="0" y="0" font-size="10.05" fill="#1a1a1a" font-weight="bold" stroke="#1a1a1a" stroke-width="0.18" textLength="14.96" lengthAdjust="spacingAndGlyphs">(%)</text>
<text x="312.84" y="329.22" font-size="8.03" fill="#111" font-weight="bold" stroke="#111" stroke-width="0.18" textLength="70.34" lengthAdjust="spacingAndGlyphs">Cell-surface Fas</text>
<text x="308.05" y="338.90" font-size="8.56" fill="#111" font-weight="bold" stroke="#111" stroke-width="0.18" textLength="78.19" lengthAdjust="spacingAndGlyphs">(log fluorescence)</text>
<polyline points="300.30,309.79 313.46,308.55 326.62,307.72 339.78,306.07 352.94,293.68 366.10,270.55 379.26,242.47 392.42,227.60" fill="none" stroke="#b01c2c" stroke-width="1.4" stroke-linejoin="round"/>
<rect x="298.60" y="308.09" width="3.4" height="3.4" fill="none" stroke="#b01c2c" stroke-width="0.65"/>
<rect x="311.76" y="306.85" width="3.4" height="3.4" fill="none" stroke="#b01c2c" stroke-width="0.65"/>
<rect x="324.92" y="306.02" width="3.4" height="3.4" fill="none" stroke="#b01c2c" stroke-width="0.65"/>
<rect x="338.08" y="304.37" width="3.4" height="3.4" fill="none" stroke="#b01c2c" stroke-width="0.65"/>
<rect x="351.24" y="291.98" width="3.4" height="3.4" fill="none" stroke="#b01c2c" stroke-width="0.65"/>
<rect x="364.40" y="268.85" width="3.4" height="3.4" fill="none" stroke="#b01c2c" stroke-width="0.65"/>
<rect x="377.56" y="240.77" width="3.4" height="3.4" fill="none" stroke="#b01c2c" stroke-width="0.65"/>
<rect x="390.72" y="225.90" width="3.4" height="3.4" fill="none" stroke="#b01c2c" stroke-width="0.65"/>
<polyline points="300.30,307.72 313.46,306.90 326.62,305.24 339.78,302.35 352.94,288.72 366.10,267.25 379.26,242.47 392.42,230.08" fill="none" stroke="#e83a3a" stroke-width="1.4" stroke-linejoin="round"/>
<circle cx="300.30" cy="307.72" r="1.75" fill="none" stroke="#e83a3a" stroke-width="0.65"/>
<circle cx="313.46" cy="306.90" r="1.75" fill="none" stroke="#e83a3a" stroke-width="0.65"/>
<circle cx="326.62" cy="305.24" r="1.75" fill="none" stroke="#e83a3a" stroke-width="0.65"/>
<circle cx="339.78" cy="302.35" r="1.75" fill="none" stroke="#e83a3a" stroke-width="0.65"/>
<circle cx="352.94" cy="288.72" r="1.75" fill="none" stroke="#e83a3a" stroke-width="0.65"/>
<circle cx="366.10" cy="267.25" r="1.75" fill="none" stroke="#e83a3a" stroke-width="0.65"/>
<circle cx="379.26" cy="242.47" r="1.75" fill="none" stroke="#e83a3a" stroke-width="0.65"/>
<circle cx="392.42" cy="230.08" r="1.75" fill="none" stroke="#e83a3a" stroke-width="0.65"/>
<polyline points="300.30,309.37 313.46,306.07 326.62,301.94 339.78,292.03 352.94,262.29 366.10,239.16 379.26,231.73 392.42,232.56" fill="none" stroke="#4f8fe8" stroke-width="1.4" stroke-linejoin="round"/>
<rect x="298.60" y="307.67" width="3.4" height="3.4" fill="none" stroke="#4f8fe8" stroke-width="0.65"/>
<rect x="311.76" y="304.37" width="3.4" height="3.4" fill="none" stroke="#4f8fe8" stroke-width="0.65"/>
<rect x="324.92" y="300.24" width="3.4" height="3.4" fill="none" stroke="#4f8fe8" stroke-width="0.65"/>
<rect x="338.08" y="290.33" width="3.4" height="3.4" fill="none" stroke="#4f8fe8" stroke-width="0.65"/>
<rect x="351.24" y="260.59" width="3.4" height="3.4" fill="none" stroke="#4f8fe8" stroke-width="0.65"/>
<rect x="364.40" y="237.46" width="3.4" height="3.4" fill="none" stroke="#4f8fe8" stroke-width="0.65"/>
<rect x="377.56" y="230.03" width="3.4" height="3.4" fill="none" stroke="#4f8fe8" stroke-width="0.65"/>
<rect x="390.72" y="230.86" width="3.4" height="3.4" fill="none" stroke="#4f8fe8" stroke-width="0.65"/>
<polyline points="300.30,310.20 313.46,305.24 326.62,301.94 339.78,295.33 352.94,267.25 366.10,239.16 379.26,234.21 392.42,240.82" fill="none" stroke="#2430d0" stroke-width="1.4" stroke-linejoin="round"/>
<circle cx="300.30" cy="310.20" r="1.75" fill="none" stroke="#2430d0" stroke-width="0.65"/>
<circle cx="313.46" cy="305.24" r="1.75" fill="none" stroke="#2430d0" stroke-width="0.65"/>
<circle cx="326.62" cy="301.94" r="1.75" fill="none" stroke="#2430d0" stroke-width="0.65"/>
<circle cx="339.78" cy="295.33" r="1.75" fill="none" stroke="#2430d0" stroke-width="0.65"/>
<circle cx="352.94" cy="267.25" r="1.75" fill="none" stroke="#2430d0" stroke-width="0.65"/>
<circle cx="366.10" cy="239.16" r="1.75" fill="none" stroke="#2430d0" stroke-width="0.65"/>
<circle cx="379.26" cy="234.21" r="1.75" fill="none" stroke="#2430d0" stroke-width="0.65"/>
<circle cx="392.42" cy="240.82" r="1.75" fill="none" stroke="#2430d0" stroke-width="0.65"/>
<line x1="381.40" y1="261.60" x2="393.20" y2="261.60" stroke="#b01c2c" stroke-width="1.0"/>
<rect x="385.60" y="259.90" width="3.4" height="3.4" fill="none" stroke="#b01c2c" stroke-width="0.65"/>
<text x="395.01" y="264.92" font-size="8.43" fill="#1a1a1a" stroke="#1a1a1a" stroke-width="0.22" textLength="67.25" lengthAdjust="spacingAndGlyphs">Bone Marrow 1</text>
<line x1="381.40" y1="272.35" x2="393.20" y2="272.35" stroke="#e83a3a" stroke-width="1.0"/>
<circle cx="387.30" cy="272.35" r="1.75" fill="none" stroke="#e83a3a" stroke-width="0.65"/>
<text x="395.00" y="275.62" font-size="8.45" fill="#1a1a1a" stroke="#1a1a1a" stroke-width="0.22" textLength="67.61" lengthAdjust="spacingAndGlyphs">Bone Marrow 2</text>
<line x1="381.40" y1="283.10" x2="393.20" y2="283.10" stroke="#4f8fe8" stroke-width="1.0"/>
<rect x="385.60" y="281.40" width="3.4" height="3.4" fill="none" stroke="#4f8fe8" stroke-width="0.65"/>
<text x="394.96" y="287.29" font-size="9.09" fill="#1a1a1a" stroke="#1a1a1a" stroke-width="0.22" textLength="38.51" lengthAdjust="spacingAndGlyphs">Spleen 1</text>
<line x1="381.40" y1="293.85" x2="393.20" y2="293.85" stroke="#2430d0" stroke-width="1.0"/>
<circle cx="387.30" cy="293.85" r="1.75" fill="none" stroke="#2430d0" stroke-width="0.65"/>
<text x="394.95" y="297.49" font-size="9.09" fill="#1a1a1a" stroke="#1a1a1a" stroke-width="0.22" textLength="39.07" lengthAdjust="spacingAndGlyphs">Spleen 2</text>
</svg></body></html>
